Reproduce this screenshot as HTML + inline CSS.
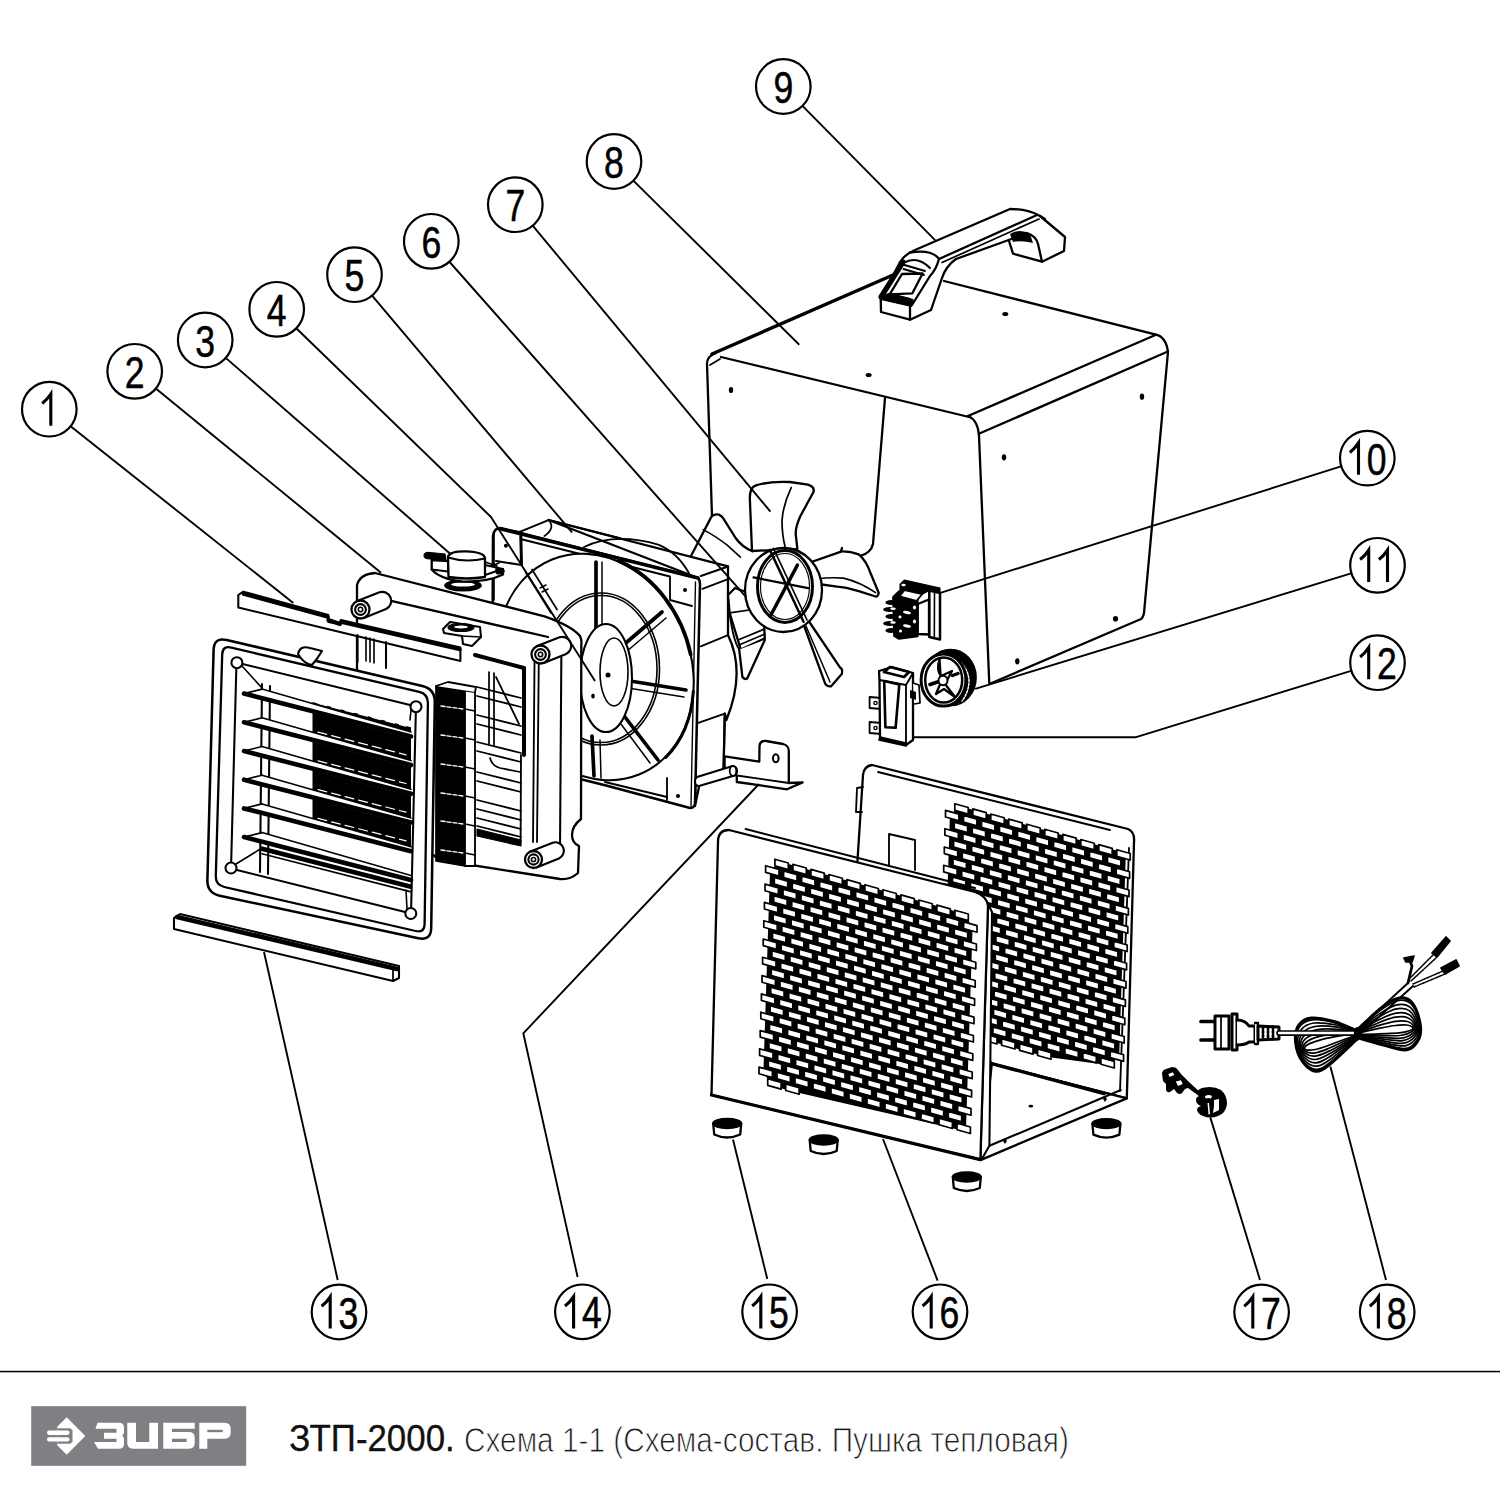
<!DOCTYPE html>
<html><head><meta charset="utf-8"><style>
html,body{margin:0;padding:0;background:#fff;}
body{width:1500px;height:1500px;overflow:hidden;position:relative;font-family:"Liberation Sans",sans-serif;}
svg{position:absolute;left:0;top:0;}
</style></head><body>
<svg width="1500" height="1500" viewBox="0 0 1500 1500" font-family="Liberation Sans, sans-serif">


<g id="drawing" fill="none" stroke="#000" stroke-width="2.3" stroke-linejoin="round" stroke-linecap="round">
<!-- ============ BOX (8) ============ -->
<g id="box">
<path d="M712,354 L893,275" stroke-width="3.45"/>
<path d="M944,281 L1156,334.7 Q1166,337 1168,352 L1144,613 Q1143,619 1138.7,620 L989.3,684 L979,436 Q978,420 968,416"/>
<path d="M968,416 L1156,334.7"/>
<path d="M980,433.3 L1166.7,352"/>
<path d="M707,364 Q707,356 716,353"/>
<path d="M721,357 L969,417"/>
<path d="M707,364 L712,516"/>
<path d="M710,365 L720,359" stroke-width="1.72"/>
<path d="M885,398 L873,544 Q871,553 860,556 L835,560"/>
<g fill="#000" stroke="none">
<ellipse cx="731" cy="390" rx="2.2" ry="3.1"/>
<ellipse cx="868.6" cy="375" rx="3" ry="2"/>
<ellipse cx="1005.3" cy="314" rx="3" ry="2"/>
<ellipse cx="1142" cy="396.7" rx="2.2" ry="3.1"/>
<ellipse cx="1004" cy="457.3" rx="2.2" ry="3.1"/>
<ellipse cx="1115.5" cy="618.7" rx="2.6" ry="2.8"/>
<ellipse cx="1017.3" cy="661.3" rx="2.2" ry="3.1"/>
</g>
</g>
<!-- ============ HANDLE (9) ============ -->
<g id="handle" fill="#fff">
<path d="M1008.7,240 L1013,253.7 L1042,261.7 L1064,251 L1065,237 L1040,216 Q1028,209 1010,209 L915,250 Q905,254 900,262 L890,282 L880.7,298 L881,312 L910,319.7 L931,310 L942,278 Q946,266 956,259 Z"/>
<path d="M939,259 L1037,215" fill="none"/>
<path d="M942,262.5 L1039,219" fill="none" stroke-width="1.72"/>
<path d="M910,252.5 Q932,249 939,259 Q936,270 930,276 L912,305" fill="none"/>

<path d="M889.7,294.4 L902,274 L922.6,273.5 L912.4,293.3 Z" fill="none" stroke-width="2.30"/>
<path d="M881,297 L903,262" fill="none" stroke-width="5.17"/>
<path d="M880.5,296.5 L889,293.5 L913,299.5 L911.5,306.5 L881,299.5 Z" fill="#000" stroke-width="1.15"/>
<path d="M905.5,262 Q918,256 930,268" fill="none" stroke-width="2.07"/>
<path d="M904.5,265 L925,271 M903.5,269 L924,275" fill="none" stroke-width="1.84"/>
<path d="M881,298 L890,294 L910,299 L910,319.7" fill="none"/>
<path d="M1008.7,240 L1027,233 Q1036,236 1038,244 L1042,261.7" fill="none"/>
<path d="M1010,234 Q1020,228 1030,234 L1033,243 Q1022,240 1013,242 Z" fill="#000" stroke="none"/>
<path d="M1040,216 L1045,219" fill="none"/>
</g>
<!-- ============ FAN HOUSING (5) ============ -->
<g id="housing" fill="#fff">
<!-- side / depth (right) -->
<path d="M548.5,520 L728,566.4 L728,635 Q746,672 726.4,720 L724.8,713.6 L723.5,772 L700,782 L695,806 L698,578 Z"/>
<path d="M700.8,576 L728,566.4" fill="none" stroke-width="2.07"/>
<path d="M702.4,588.8 L728,579.2" fill="none" stroke-width="1.84"/>
<path d="M700.8,646.4 L728,635.2" fill="none" stroke-width="1.84"/>
<path d="M697.6,723.2 L724.8,713.6" fill="none" stroke-width="1.84"/>
<path d="M724.8,713.6 L723.5,772" fill="none" stroke-width="2.07"/>
<!-- top (depth) -->
<path d="M499.5,528.7 L519.7,531.9 L548.5,520.1 L620,538.3" fill="none" stroke-width="2.07"/>
<path d="M548.5,520 Q556,528 544.3,536.1" fill="none" stroke-width="1.72"/>
<!-- front plate -->
<path d="M493,536 Q494,528 500.5,528 L698,578 Q700,580 700,584 L695,804 Q694,808 690,808 L608,786 L492,757 Z" stroke-width="2.53"/>
<path d="M499.5,528.7 L698,578" fill="none" stroke-width="3.45"/>
<path d="M695.5,582 L691,806" fill="none" stroke-width="1.38"/>
<!-- inner recess -->
<path d="M520.8,536 L521.5,564" fill="none" stroke-width="2.99"/>
<path d="M496,561 L521.5,565" fill="none" stroke-width="2.07"/>
<path d="M494,533 L494,600" fill="none" stroke-width="1.61"/>
<path d="M520.5,539 L670,576.5 L670,600 L692,606" fill="none" stroke-width="1.84"/>
<path d="M667,778 L667,800" fill="none" stroke-width="1.84"/>
<path d="M605,782 L667,797" fill="none" stroke-width="1.84"/>
<!-- big opening -->
<ellipse cx="595.5" cy="667" rx="95" ry="116" transform="rotate(-22 595.5 667)" stroke-width="2.07"/>
<path d="M619.7,561.3 A95,116 -22 0 1 690.7,654.5" fill="none" stroke-width="3.68"/>
<path d="M693.3,691.6 A95,116 -22 0 1 665.8,757.4" fill="none" stroke-width="2.99"/>
<!-- back shroud arc peeking -->
<path d="M584,547 Q615,532 659,544.8 Q678,553 689.2,573.6" fill="none" stroke-width="1.84"/>
<!-- spokes (behind ring) -->
<g fill="none" stroke-width="3.68">
<path d="M596,562 L596,628"/>
<path d="M662,612 L620,648"/>
<path d="M630,681 L686,690"/>
<path d="M618,708 L658,760"/>
<path d="M592,736 L594,776"/>
</g>
<g fill="none" stroke-width="1.49">
<path d="M602,562 L602,626"/>
<path d="M666,618 L626,652"/>
<path d="M628,688 L684,697"/>
<path d="M612,712 L650,763"/>
<path d="M600,740 L601,778"/>
</g>
<path d="M525.5,572 L551,613 M532,569.5 L557,609.5" fill="none" stroke-width="1.72"/>
<path d="M540,588 L546,585 M542,592 L548,589" fill="none" stroke-width="1.49"/>
<!-- ring -->
<ellipse cx="601" cy="669" rx="58.5" ry="76" fill="none" stroke-width="1.61"/>
<ellipse cx="601" cy="669" rx="56" ry="73.5" fill="none" stroke-width="1.61"/>
<!-- hub -->
<ellipse cx="606" cy="678" rx="26" ry="54" stroke-width="2.07"/>
<ellipse cx="614" cy="672" rx="14" ry="34" fill="none" stroke-width="1.61"/>
<circle cx="608" cy="675" r="2.5" fill="#000" stroke="none"/>
<ellipse cx="593" cy="696" rx="1.8" ry="2.6" fill="#000" stroke="none"/>
<!-- holes -->
<circle cx="685" cy="590" r="2" fill="#000" stroke="none"/>
<circle cx="678" cy="796" r="2" fill="#000" stroke="none"/>
<circle cx="505.9" cy="545.7" r="2" fill="#000" stroke="none"/>
</g>
<!-- ============ FAN (7) ============ -->
<g id="fan" fill="#fff">
<!-- upper-left blade (behind) -->
<path d="M691,556 L711.6,516.4 Q715,513.5 718.8,514.6 Q722,516 723.6,518.8 L735.6,538 Q742,547 752.4,551.2"/>
<path d="M703.2,529.6 Q717,537 727.2,545.2 L740.4,557.2" fill="none" stroke-width="1.61"/>
<!-- top blade -->
<path d="M752,551 L749.8,497.6 Q750,487 756,485.3 Q770,481 790,482 L808,484.6 Q815,487 813.5,492 L800.4,516 Q795,528 795.8,535 L797.4,549 Z"/>
<path d="M791.2,487.6 Q783,505 782,520.6 Q782,535 785.1,546.7" fill="none" stroke-width="1.72"/>
<!-- right blade -->
<path d="M800,566 L841.8,551.3 Q850,551 858.7,554.4 Q866,560 871,574.3 L878.7,592.7 Q878,597 875.6,596.5 L858.7,591.2 Q845,587 837.2,586.6 L818,584 Z"/>
<path d="M817.3,578.9 Q830,577 843.4,578.1 Q860,582 875.6,592.7" fill="none" stroke-width="1.61"/>
<path d="M841,551 L842,548" fill="none" stroke-width="2.30"/>
<!-- bottom blade -->
<path d="M802,620 L825,683.2 Q827,687 831.1,686.3 L841.8,674 Q843,669 840.3,667.9 L808,620 Z"/>
<path d="M806,626 L830,682" fill="none" stroke-width="1.49"/>
<!-- motor (left of hub) -->
<path d="M728,595 L735,588 L760,597 L763.2,608 L764.8,638.4 L740.8,649.6 L729.6,612.8 Z"/>
<path d="M729.6,612.8 L763.2,608" fill="none" stroke-width="1.72"/>
<path d="M738,640 L764.5,629" fill="none" stroke-width="1.72"/>
<path d="M739,645 L764.8,634" fill="none" stroke-width="1.72"/>
<path d="M739.2,649.6 L742.4,677 Q744.5,680 747.2,678.4 L764.8,640" />
<path d="M729.6,612.8 Q733,640 739.2,649.6" fill="none" stroke-width="1.84"/>
<!-- hub -->
<ellipse cx="783.5" cy="590" rx="38.5" ry="42"/>
<ellipse cx="785" cy="586.5" rx="27.5" ry="36" stroke-width="2.99"/>
<ellipse cx="785" cy="586.5" rx="24.5" ry="33" stroke-width="1.15"/>
<path d="M769.8,549.8 L803.5,621.8" fill="none" stroke-width="2.53"/>
<path d="M773.5,548.5 L807,620" fill="none" stroke-width="1.72"/>
<path d="M753.6,577.4 L808.1,588.1" fill="none" stroke-width="2.30"/>
<path d="M797.4,565.1 L771.3,614.2" fill="none" stroke-width="3.45"/>
<circle cx="786" cy="587" r="2" fill="#000" stroke="none"/>
</g>
<!-- ============ SWITCH (10) ============ -->
<g id="switch10" fill="#fff">
<path d="M929.3,590.5 L940,593 L940,639.5 L929.3,637 Z" stroke-width="2.53"/>
<path d="M934.5,592 L934.3,638" fill="none" stroke-width="1.61"/>
<path d="M917.7,604 L929,599.5 L929,634.5 L917.7,634 Z" stroke-width="2.30"/>
<path d="M893,597 L899,591 L917.7,598 L917.7,636.5 L899,639 L894,636 Z" fill="#000" stroke-width="1.72"/>
<g fill="#000" stroke="none">
<ellipse cx="891" cy="602.5" rx="5.5" ry="2.5"/><ellipse cx="889.5" cy="609.5" rx="6.3" ry="2.5"/>
<ellipse cx="891" cy="616.5" rx="5.5" ry="2.5"/><ellipse cx="889.5" cy="623.5" rx="6.3" ry="2.5"/>
<ellipse cx="891" cy="630.5" rx="5.5" ry="2.5"/>
</g>
<g fill="#fff" stroke="none">
<ellipse cx="893" cy="608.8" rx="2.8" ry="1.3"/><ellipse cx="893" cy="622.5" rx="2.8" ry="1.3"/>
<ellipse cx="907" cy="612.5" rx="4" ry="1.5" transform="rotate(12 907 612.5)"/><ellipse cx="907" cy="626" rx="4" ry="1.5" transform="rotate(12 907 626)"/>
<ellipse cx="914.5" cy="607.5" rx="1.6" ry="2"/><ellipse cx="914.5" cy="621.5" rx="1.6" ry="2"/>
<ellipse cx="900" cy="617" rx="1.5" ry="1.4"/><ellipse cx="900.5" cy="631" rx="1.5" ry="1.5"/>
</g>
<path d="M900,595 L900,584.5 L904.5,580 L940,588 L940,593 L929.3,590.5 L922.5,594 L904.5,590 Z" fill="#000" stroke-width="1.15"/>
<path d="M899.5,596.5 L904.5,590 L922.3,594 L916.5,601 Z" stroke-width="1.84"/>
<ellipse cx="903.5" cy="585" rx="2.2" ry="1.2" fill="#fff" stroke="none"/>
</g>
<!-- ============ KNOB (11) ============ -->
<g id="knob11" fill="#fff">
<ellipse cx="950.5" cy="677.5" rx="25.5" ry="28" fill="#000" stroke-width="1.72"/>
<path d="M958,660 Q968,668 969,680 Q969,692 962,701" fill="none" stroke="#fff" stroke-width="1.49" stroke-dasharray="2.2 1.6"/>
<ellipse cx="943.5" cy="680" rx="22.4" ry="26.1" stroke-width="2.99"/>
<ellipse cx="943.7" cy="680" rx="18.5" ry="22.6" fill="none" stroke-width="2.53"/>
<path d="M939.5,659 Q936,670 941,676 L952,671 L945,684 L955,697 L944,689 L936,694 L941,682 Z" fill="#fff" stroke-width="2.30"/>
<path d="M930,684.5 L939,681.5" fill="none" stroke-width="3.68"/>
<path d="M952.5,675.5 L958,673.5" fill="none" stroke-width="3.45"/>
<ellipse cx="943" cy="680.5" rx="4.5" ry="4.8" stroke-width="2.07"/>
</g>
<!-- ============ PART 12 ============ -->
<g id="part12" fill="#fff">
<path d="M869.6,697 L881.6,698 L881.6,709 L869.6,708 Z" stroke-width="1.84"/>
<path d="M869.6,722 L881.6,723 L881.6,734 L869.6,733 Z" stroke-width="1.84"/>
<circle cx="875.5" cy="703" r="1.6" stroke-width="1.38"/>
<circle cx="875.5" cy="728" r="1.6" stroke-width="1.38"/>
<path d="M879,671 L892,667 L913,673 L913,740 L906,745 L880,738 L879.5,680 Z"/>
<path d="M879.5,680 L906,685 L913,673" fill="none" stroke-width="1.84"/>
<path d="M906,685 L906,745" fill="none" stroke-width="1.84"/>
<path d="M884.2,681 L899.3,684.5 L895.6,727.8 L885.4,727.2 Z" fill="none" stroke-width="2.64"/>
<path d="M884,672 L904,677 L909,672 L890,667 Z" fill="none" stroke-width="2.76"/>
<path d="M880,737 L906,743 L906,746 L879,740 Z" fill="#000" stroke-width="1.72"/>
<path d="M913,683 L919,685 L920,703 L914,704" fill="#fff" stroke-width="1.72"/>
<path d="M910,690 L916,692 L916,700 L910,698" fill="#000" stroke="none"/>
</g>
<!-- ============ THERMOSTAT (3) ============ -->
<g id="thermo" fill="#fff">
<ellipse cx="463" cy="585.5" rx="18" ry="5.2" fill="#000" stroke-width="1.72"/>
<ellipse cx="463" cy="584.5" rx="12" ry="2" fill="#fff" stroke="none"/>
<path d="M431.7,560 L431.7,569.5 Q440,579 462,581.5 Q488,582 503,574.5 L503,569 L485,565 L448,561 Z" stroke-width="2.30"/>
<path d="M431.7,569.5 L448,571.5 L485,575 L503,569" fill="none" stroke-width="2.07"/>
<path d="M448,561 L448,571.5" fill="none" stroke-width="2.07"/>
<path d="M424,555.5 Q424,552 430,552.5 L445,554 L446,560.5 L430,559 Q424,559 424,555.5 Z" fill="#000" stroke-width="1.15"/>
<path d="M448,556.5 Q450,551 466,551.3 Q484,552 485,558 L485,577 Q467,580 448.5,577 Z" stroke-width="2.30"/>
<path d="M448,557.5 Q466,563 485,558.5" fill="none" stroke-width="2.07"/>
<path d="M485,562 L497,566 M491,566 L499,563" fill="none" stroke-width="1.72"/>
<path d="M496,569 Q503,568 504,571 Q503,574 497,573.5 Z" fill="#000" stroke-width="1.72"/>
</g>
<!-- ============ FRAME (2) ============ -->
<g id="frame2" fill="#fff">
<!-- outer silhouette incl. top surface and flange -->
<path d="M357,597 L357,585 Q360,574 375,573 L544.5,616.3 Q572,626 580,636 Q582,640 581.3,645 L581,819 Q572,826 572,835 Q572,843 579,846 L578,873 Q570,880 560,879 L440,860 L357,800 Z" stroke-width="2.30"/>
<!-- top band front face -->
<path d="M386.8,599.8 L548,637" fill="none" stroke-width="2.30"/>

<!-- right band -->
<path d="M534.5,663 L533,842" fill="none" stroke-width="1.84"/>
<path d="M538.8,660 L537,842" fill="none" stroke-width="1.84"/>
<path d="M561.4,648 L560,850" fill="none" stroke-width="2.07"/>
<!-- inner opening -->
<path d="M524,668 L524,755" fill="none" stroke-width="4.02"/>
<path d="M521,755 L520.6,842" fill="none" stroke-width="1.84"/>
<path d="M475,655 L524,668" fill="none" stroke-width="4.02"/>
<!-- slats inside -->
<g fill="none" stroke-width="1.72">
<path d="M477,687 L521,698 M477,696 L521,707"/>
<path d="M477,715 L521,726 M477,724 L521,735"/>
<path d="M477,742 L521,753 M477,751 L521,762"/>
<path d="M477,772 L521,783 M477,781 L521,792"/>
<path d="M477,800 L521,811 M477,809 L521,820"/>
<path d="M477,818 L521,829 M477,826 L521,837"/>
<path d="M489,672 L489,744 M494,673 L494,745"/>
<path d="M496,677 L519,724"/>
<path d="M490,758 Q492,766 500,768 L520,772"/>
</g>
<path d="M477,829 L521,840 L521,846 L477,836 Z" fill="#000" stroke-width="1.15"/>
<!-- tubes -->
<path d="M357.2,601.1 L379.5,592.3 A9,9 0 0 1 386.1,609.0 L363.8,617.9 Z" stroke-width="2.18"/>
<circle cx="360.5" cy="609.5" r="9" stroke-width="2.30"/>
<circle cx="360.5" cy="609.5" r="5.4" stroke-width="2.07"/>
<circle cx="360.5" cy="609.5" r="2.2" stroke-width="1.49"/>
<path d="M537.2,646.1 L559.5,637.3 A9,9 0 0 1 566.1,654.0 L543.8,662.9 Z" stroke-width="2.18"/>
<circle cx="540.5" cy="654.5" r="9" stroke-width="2.30"/>
<circle cx="540.5" cy="654.5" r="5.4" stroke-width="2.07"/>
<circle cx="540.5" cy="654.5" r="2.2" stroke-width="1.49"/>
<path d="M530.4,851.6 L552.7,842.7 A8.5,8.5 0 0 1 558.9,858.5 L536.6,867.4 Z" stroke-width="2.18"/>
<circle cx="533.5" cy="859.5" r="8.5" stroke-width="2.30"/>
<circle cx="533.5" cy="859.5" r="5.1" stroke-width="2.07"/>
<circle cx="533.5" cy="859.5" r="2.1" stroke-width="1.49"/>
<!-- clip on top band -->
<path d="M443,629 L450,622 L480,627 L481,637 L472,646 L463,644 L462,636 L444,633 Z" stroke-width="2.07"/>
<ellipse cx="461" cy="627.5" rx="13" ry="4" fill="#000" stroke-width="1.15"/>
<ellipse cx="461" cy="627" rx="7" ry="1.4" fill="#fff" stroke="none"/>
<path d="M462,636 L481,637" fill="none" stroke-width="1.61"/>
</g>
<!-- ============ HEATER ELEMENT ============ -->
<g id="heater">
<path d="M436,686 L465,690.5 L465,866 L436,861 Z" fill="#000" stroke="#000" stroke-width="1.72"/>
<path d="M465,690.5 L475,692 L475,866 L465,866 Z" fill="#fff" stroke-width="1.84"/>
<path d="M436,686 L448,682 L476,687 L475,692" fill="#fff" stroke-width="1.84"/>
<g fill="none" stroke="#fff" stroke-width="1.38" stroke-dasharray="4 2">
<path d="M441,706 L463,709"/><path d="M441,735 L463,738"/><path d="M441,764 L463,767"/>
<path d="M441,793 L463,796"/><path d="M441,821 L463,824"/><path d="M441,850 L463,853"/>
</g>
<g fill="none" stroke-width="1.61">
<path d="M465,709 L475,711"/><path d="M465,738 L475,740"/><path d="M465,767 L475,769"/>
<path d="M465,796 L475,798"/><path d="M465,824 L475,826"/><path d="M465,853 L475,855"/>
</g>
</g>
<!-- ============ TOP STRIP (1) ============ -->
<g id="strip1" fill="#fff">
<path d="M238.3,595 L243.3,591.7 L328.3,615 L328.3,622 L340,624 L340.8,620 L460.4,647.5 L460.4,661 L340,632 L238.3,607.5 Z" stroke-width="2.07"/>
<path d="M243.5,594 L328,617" fill="none" stroke-width="3.45"/>
<path d="M340.8,622 L460,649.5" fill="none" stroke-width="3.45"/>
<path d="M328.3,620 L340,624" fill="none" stroke-width="4.02"/>
<path d="M357.5,635 L357.5,662 M386,642 L386,668" fill="none" stroke-width="2.07"/>
<path d="M366,637 L366,661 M370,638 L370,662 M374,639 L374,663" fill="none" stroke-width="1.61"/>
</g>
<g id="grille" fill="#fff">
<path d="M213.6,650.0 Q214.0,637.0 226.7,640.0 L422.3,686.0 Q435.0,689.0 434.8,702.0 L431.2,928.0 Q431.0,941.0 418.3,938.3 L219.7,895.7 Q207.0,893.0 207.4,880.0 Z" stroke-width="2.53"/>
<path d="M222.2,654.5 Q222.5,645.5 231.3,647.6 L419.2,691.9 Q428.0,694.0 427.9,703.0 L424.6,924.0 Q424.5,933.0 415.7,931.0 L224.3,887.0 Q215.5,885.0 215.8,876.0 Z" fill="none" stroke-width="2.30"/>
<path d="M236.4,665.5 Q236.5,662.5 239.4,663.2 L413.1,705.8 Q416.0,706.5 415.9,709.5 L411.1,910.5 Q411.0,913.5 408.1,912.8 L233.9,869.2 Q231.0,868.5 231.1,865.5 Z" fill="none" stroke-width="2.07"/>
<path d="M312.5,702.0 L411.0,727.3 L411.0,731.9 L312.5,706.6 Z" fill="#000" stroke="none"/>
<path d="M318,703.5 L406,726.1" stroke="#fff" stroke-width="1.26" stroke-dasharray="9 5" fill="none"/>
<path d="M312.5,713.1 L411.0,738.4 L411.0,760.6 L312.5,735.3 Z" fill="#000" stroke="none"/>
<path d="M318,732.2 L406,754.8" stroke="#fff" stroke-width="1.26" stroke-dasharray="9 5" fill="none"/>
<path d="M312.5,741.8 L411.0,767.1 L411.0,789.3 L312.5,764.0 Z" fill="#000" stroke="none"/>
<path d="M318,760.9 L406,783.5" stroke="#fff" stroke-width="1.26" stroke-dasharray="9 5" fill="none"/>
<path d="M312.5,770.5 L411.0,795.8 L411.0,818.0 L312.5,792.7 Z" fill="#000" stroke="none"/>
<path d="M318,789.6 L406,812.2" stroke="#fff" stroke-width="1.26" stroke-dasharray="9 5" fill="none"/>
<path d="M312.5,799.2 L411.0,824.5 L411.0,846.7 L312.5,821.4 Z" fill="#000" stroke="none"/>
<path d="M318,818.3 L406,840.9" stroke="#fff" stroke-width="1.26" stroke-dasharray="9 5" fill="none"/>
<path d="M262,684 L260,872 M270,686 L268,874" fill="none" stroke-width="2.07"/>
<path d="M244,693.6 L262,689.1 L411,731.9 L411,736.4 Z" fill="#fff" stroke="none"/>
<path d="M244,693.6 L411,736.4" fill="none" stroke-width="4.60"/>
<path d="M262,689.1 L411,731.9" fill="none" stroke-width="1.61"/>
<path d="M244,693.6 L262,689.1" fill="none" stroke-width="1.61"/>
<path d="M244,722.3 L262,717.8 L411,760.6 L411,765.1 Z" fill="#fff" stroke="none"/>
<path d="M244,722.3 L411,765.1" fill="none" stroke-width="4.60"/>
<path d="M262,717.8 L411,760.6" fill="none" stroke-width="1.61"/>
<path d="M244,722.3 L262,717.8" fill="none" stroke-width="1.61"/>
<path d="M244,751.0 L262,746.5 L411,789.3 L411,793.8 Z" fill="#fff" stroke="none"/>
<path d="M244,751.0 L411,793.8" fill="none" stroke-width="4.60"/>
<path d="M262,746.5 L411,789.3" fill="none" stroke-width="1.61"/>
<path d="M244,751.0 L262,746.5" fill="none" stroke-width="1.61"/>
<path d="M244,779.7 L262,775.2 L411,818.0 L411,822.5 Z" fill="#fff" stroke="none"/>
<path d="M244,779.7 L411,822.5" fill="none" stroke-width="4.60"/>
<path d="M262,775.2 L411,818.0" fill="none" stroke-width="1.61"/>
<path d="M244,779.7 L262,775.2" fill="none" stroke-width="1.61"/>
<path d="M244,808.4 L262,803.9 L411,846.7 L411,851.2 Z" fill="#fff" stroke="none"/>
<path d="M244,808.4 L411,851.2" fill="none" stroke-width="4.60"/>
<path d="M262,803.9 L411,846.7" fill="none" stroke-width="1.61"/>
<path d="M244,808.4 L262,803.9" fill="none" stroke-width="1.61"/>
<path d="M244,837.1 L262,832.6 L411,875.4 L411,879.9 Z" fill="#fff" stroke="none"/>
<path d="M244,837.1 L411,879.9" fill="none" stroke-width="4.60"/>
<path d="M262,832.6 L411,875.4" fill="none" stroke-width="1.61"/>
<path d="M244,837.1 L262,832.6" fill="none" stroke-width="1.61"/>
<path d="M262,848.7 L410,886.6" fill="none" stroke-width="4.60"/>
<path d="M262,853.7 L410,891.6" fill="none" stroke-width="1.61"/>
<circle cx="236.9" cy="662.7" r="5.5" stroke-width="2.07"/>
<circle cx="416" cy="706.7" r="5.5" stroke-width="2.07"/>
<circle cx="410.8" cy="913.5" r="5.5" stroke-width="2.07"/>
<circle cx="231" cy="868" r="5.5" stroke-width="2.07"/>
<path d="M242,666 L262,688 M411,710 L410,720 M236,864 L262,848 M407,909 L406,890" fill="none" stroke-width="1.61"/>
<path d="M298,654 Q300,645 310,648 L322,651 Q318,658 312,665 Q304,664 298,654 Z" stroke-width="2.07"/>
</g>
<g id="strip13" fill="#fff">
<path d="M174,918 L180,914 L399,966 L399,978 L393,981 L174,929 Z" stroke-width="2.07"/>
<path d="M177,917 L397,969" fill="none" stroke-width="4.60"/>
<path d="M393,969 L393,981" fill="none" stroke-width="1.72"/>
</g><g id="frame16" fill="#fff">
<path d="M857,868 L863,775 Q864,766 872,765 L1128,829 Q1135,832 1134,842 L1126.8,1098.4 L991.8,1063.6 Z" stroke-width="2.30"/>
<path d="M1129,848 L1120,1091" fill="none" stroke-width="1.84"/>
<path d="M878,772 L1110,830" fill="none" stroke-width="1.84"/>
<path d="M863,787 L857,788 L856,812 L862,812" fill="none" stroke-width="1.84"/>
<path d="M889,866 L889,834 L915,840 L915,870" fill="none" stroke-width="1.84"/>
<path d="M949.2,907.1 L949.8,888.8 L951.6,833.9 L952.2,815.6 L961.5,809.0 L1015.5,824.3 L1105.5,849.8 L1123.5,854.9 L1122.9,873.2 L1116.9,1056.2 L1107.6,1062.8 L1044.3,1054.1 L1008.3,1043.9 L972.3,1033.7 L954.3,1028.6 Z" fill="#000" stroke="#000" stroke-width="4.60" stroke-linejoin="round"/>
<path d="M954.8,803.8l13.4,3.75l0,6.6l-13.4,-3.75zM945.5,810.4l13.4,3.75l0,6.6l-13.4,-3.75zM972.8,808.9l13.4,3.75l0,6.6l-13.4,-3.75zM963.5,815.5l13.4,3.75l0,6.6l-13.4,-3.75zM990.8,814.0l13.4,3.75l0,6.6l-13.4,-3.75zM981.5,820.6l13.4,3.75l0,6.6l-13.4,-3.75zM1008.8,819.1l13.4,3.75l0,6.6l-13.4,-3.75zM999.5,825.7l13.4,3.75l0,6.6l-13.4,-3.75zM1026.8,824.2l13.4,3.75l0,6.6l-13.4,-3.75zM1017.5,830.8l13.4,3.75l0,6.6l-13.4,-3.75zM1044.8,829.3l13.4,3.75l0,6.6l-13.4,-3.75zM1035.5,835.9l13.4,3.75l0,6.6l-13.4,-3.75zM1062.8,834.4l13.4,3.75l0,6.6l-13.4,-3.75zM1053.5,841.0l13.4,3.75l0,6.6l-13.4,-3.75zM1080.8,839.5l13.4,3.75l0,6.6l-13.4,-3.75zM1071.5,846.1l13.4,3.75l0,6.6l-13.4,-3.75zM1098.8,844.6l13.4,3.75l0,6.6l-13.4,-3.75zM1089.5,851.2l13.4,3.75l0,6.6l-13.4,-3.75zM1116.8,849.7l13.4,3.75l0,6.6l-13.4,-3.75zM1107.5,856.3l13.4,3.75l0,6.6l-13.4,-3.75zM954.2,822.1l13.4,3.75l0,6.6l-13.4,-3.75zM944.9,828.7l13.4,3.75l0,6.6l-13.4,-3.75zM972.2,827.2l13.4,3.75l0,6.6l-13.4,-3.75zM962.9,833.8l13.4,3.75l0,6.6l-13.4,-3.75zM990.2,832.3l13.4,3.75l0,6.6l-13.4,-3.75zM980.9,838.9l13.4,3.75l0,6.6l-13.4,-3.75zM1008.2,837.4l13.4,3.75l0,6.6l-13.4,-3.75zM998.9,844.0l13.4,3.75l0,6.6l-13.4,-3.75zM1026.2,842.5l13.4,3.75l0,6.6l-13.4,-3.75zM1016.9,849.1l13.4,3.75l0,6.6l-13.4,-3.75zM1044.2,847.6l13.4,3.75l0,6.6l-13.4,-3.75zM1034.9,854.2l13.4,3.75l0,6.6l-13.4,-3.75zM1062.2,852.7l13.4,3.75l0,6.6l-13.4,-3.75zM1052.9,859.3l13.4,3.75l0,6.6l-13.4,-3.75zM1080.2,857.8l13.4,3.75l0,6.6l-13.4,-3.75zM1070.9,864.4l13.4,3.75l0,6.6l-13.4,-3.75zM1098.2,862.9l13.4,3.75l0,6.6l-13.4,-3.75zM1088.9,869.5l13.4,3.75l0,6.6l-13.4,-3.75zM1116.2,868.0l13.4,3.75l0,6.6l-13.4,-3.75zM1106.9,874.6l13.4,3.75l0,6.6l-13.4,-3.75zM953.6,840.4l13.4,3.75l0,6.6l-13.4,-3.75zM944.3,847.0l13.4,3.75l0,6.6l-13.4,-3.75zM971.6,845.5l13.4,3.75l0,6.6l-13.4,-3.75zM962.3,852.1l13.4,3.75l0,6.6l-13.4,-3.75zM989.6,850.6l13.4,3.75l0,6.6l-13.4,-3.75zM980.3,857.2l13.4,3.75l0,6.6l-13.4,-3.75zM1007.6,855.7l13.4,3.75l0,6.6l-13.4,-3.75zM998.3,862.3l13.4,3.75l0,6.6l-13.4,-3.75zM1025.6,860.8l13.4,3.75l0,6.6l-13.4,-3.75zM1016.3,867.4l13.4,3.75l0,6.6l-13.4,-3.75zM1043.6,865.9l13.4,3.75l0,6.6l-13.4,-3.75zM1034.3,872.5l13.4,3.75l0,6.6l-13.4,-3.75zM1061.6,871.0l13.4,3.75l0,6.6l-13.4,-3.75zM1052.3,877.6l13.4,3.75l0,6.6l-13.4,-3.75zM1079.6,876.1l13.4,3.75l0,6.6l-13.4,-3.75zM1070.3,882.7l13.4,3.75l0,6.6l-13.4,-3.75zM1097.6,881.2l13.4,3.75l0,6.6l-13.4,-3.75zM1088.3,887.8l13.4,3.75l0,6.6l-13.4,-3.75zM1115.6,886.3l13.4,3.75l0,6.6l-13.4,-3.75zM1106.3,892.9l13.4,3.75l0,6.6l-13.4,-3.75zM953.0,858.7l13.4,3.75l0,6.6l-13.4,-3.75zM943.7,865.3l13.4,3.75l0,6.6l-13.4,-3.75zM971.0,863.8l13.4,3.75l0,6.6l-13.4,-3.75zM961.7,870.4l13.4,3.75l0,6.6l-13.4,-3.75zM989.0,868.9l13.4,3.75l0,6.6l-13.4,-3.75zM979.7,875.5l13.4,3.75l0,6.6l-13.4,-3.75zM1007.0,874.0l13.4,3.75l0,6.6l-13.4,-3.75zM997.7,880.6l13.4,3.75l0,6.6l-13.4,-3.75zM1025.0,879.1l13.4,3.75l0,6.6l-13.4,-3.75zM1015.7,885.7l13.4,3.75l0,6.6l-13.4,-3.75zM1043.0,884.2l13.4,3.75l0,6.6l-13.4,-3.75zM1033.7,890.8l13.4,3.75l0,6.6l-13.4,-3.75zM1061.0,889.3l13.4,3.75l0,6.6l-13.4,-3.75zM1051.7,895.9l13.4,3.75l0,6.6l-13.4,-3.75zM1079.0,894.4l13.4,3.75l0,6.6l-13.4,-3.75zM1069.7,901.0l13.4,3.75l0,6.6l-13.4,-3.75zM1097.0,899.5l13.4,3.75l0,6.6l-13.4,-3.75zM1087.7,906.1l13.4,3.75l0,6.6l-13.4,-3.75zM1115.0,904.6l13.4,3.75l0,6.6l-13.4,-3.75zM1105.7,911.2l13.4,3.75l0,6.6l-13.4,-3.75zM952.4,877.0l13.4,3.75l0,6.6l-13.4,-3.75zM943.1,883.6l13.4,3.75l0,6.6l-13.4,-3.75zM970.4,882.1l13.4,3.75l0,6.6l-13.4,-3.75zM961.1,888.7l13.4,3.75l0,6.6l-13.4,-3.75zM988.4,887.2l13.4,3.75l0,6.6l-13.4,-3.75zM979.1,893.8l13.4,3.75l0,6.6l-13.4,-3.75zM1006.4,892.3l13.4,3.75l0,6.6l-13.4,-3.75zM997.1,898.9l13.4,3.75l0,6.6l-13.4,-3.75zM1024.4,897.4l13.4,3.75l0,6.6l-13.4,-3.75zM1015.1,904.0l13.4,3.75l0,6.6l-13.4,-3.75zM1042.4,902.5l13.4,3.75l0,6.6l-13.4,-3.75zM1033.1,909.1l13.4,3.75l0,6.6l-13.4,-3.75zM1060.4,907.6l13.4,3.75l0,6.6l-13.4,-3.75zM1051.1,914.2l13.4,3.75l0,6.6l-13.4,-3.75zM1078.4,912.7l13.4,3.75l0,6.6l-13.4,-3.75zM1069.1,919.3l13.4,3.75l0,6.6l-13.4,-3.75zM1096.4,917.8l13.4,3.75l0,6.6l-13.4,-3.75zM1087.1,924.4l13.4,3.75l0,6.6l-13.4,-3.75zM1114.4,922.9l13.4,3.75l0,6.6l-13.4,-3.75zM1105.1,929.5l13.4,3.75l0,6.6l-13.4,-3.75zM951.8,895.3l13.4,3.75l0,6.6l-13.4,-3.75zM942.5,901.9l13.4,3.75l0,6.6l-13.4,-3.75zM969.8,900.4l13.4,3.75l0,6.6l-13.4,-3.75zM960.5,907.0l13.4,3.75l0,6.6l-13.4,-3.75zM987.8,905.5l13.4,3.75l0,6.6l-13.4,-3.75zM978.5,912.1l13.4,3.75l0,6.6l-13.4,-3.75zM1005.8,910.6l13.4,3.75l0,6.6l-13.4,-3.75zM996.5,917.2l13.4,3.75l0,6.6l-13.4,-3.75zM1023.8,915.7l13.4,3.75l0,6.6l-13.4,-3.75zM1014.5,922.3l13.4,3.75l0,6.6l-13.4,-3.75zM1041.8,920.8l13.4,3.75l0,6.6l-13.4,-3.75zM1032.5,927.4l13.4,3.75l0,6.6l-13.4,-3.75zM1059.8,925.9l13.4,3.75l0,6.6l-13.4,-3.75zM1050.5,932.5l13.4,3.75l0,6.6l-13.4,-3.75zM1077.8,931.0l13.4,3.75l0,6.6l-13.4,-3.75zM1068.5,937.6l13.4,3.75l0,6.6l-13.4,-3.75zM1095.8,936.1l13.4,3.75l0,6.6l-13.4,-3.75zM1086.5,942.7l13.4,3.75l0,6.6l-13.4,-3.75zM1113.8,941.2l13.4,3.75l0,6.6l-13.4,-3.75zM1104.5,947.8l13.4,3.75l0,6.6l-13.4,-3.75zM951.2,913.6l13.4,3.75l0,6.6l-13.4,-3.75zM969.2,918.7l13.4,3.75l0,6.6l-13.4,-3.75zM959.9,925.3l13.4,3.75l0,6.6l-13.4,-3.75zM987.2,923.8l13.4,3.75l0,6.6l-13.4,-3.75zM977.9,930.4l13.4,3.75l0,6.6l-13.4,-3.75zM1005.2,928.9l13.4,3.75l0,6.6l-13.4,-3.75zM995.9,935.5l13.4,3.75l0,6.6l-13.4,-3.75zM1023.2,934.0l13.4,3.75l0,6.6l-13.4,-3.75zM1013.9,940.6l13.4,3.75l0,6.6l-13.4,-3.75zM1041.2,939.1l13.4,3.75l0,6.6l-13.4,-3.75zM1031.9,945.7l13.4,3.75l0,6.6l-13.4,-3.75zM1059.2,944.2l13.4,3.75l0,6.6l-13.4,-3.75zM1049.9,950.8l13.4,3.75l0,6.6l-13.4,-3.75zM1077.2,949.3l13.4,3.75l0,6.6l-13.4,-3.75zM1067.9,955.9l13.4,3.75l0,6.6l-13.4,-3.75zM1095.2,954.4l13.4,3.75l0,6.6l-13.4,-3.75zM1085.9,961.0l13.4,3.75l0,6.6l-13.4,-3.75zM1113.2,959.5l13.4,3.75l0,6.6l-13.4,-3.75zM1103.9,966.1l13.4,3.75l0,6.6l-13.4,-3.75zM950.6,931.9l13.4,3.75l0,6.6l-13.4,-3.75zM968.6,937.0l13.4,3.75l0,6.6l-13.4,-3.75zM959.3,943.6l13.4,3.75l0,6.6l-13.4,-3.75zM986.6,942.1l13.4,3.75l0,6.6l-13.4,-3.75zM977.3,948.7l13.4,3.75l0,6.6l-13.4,-3.75zM1004.6,947.2l13.4,3.75l0,6.6l-13.4,-3.75zM995.3,953.8l13.4,3.75l0,6.6l-13.4,-3.75zM1022.6,952.3l13.4,3.75l0,6.6l-13.4,-3.75zM1013.3,958.9l13.4,3.75l0,6.6l-13.4,-3.75zM1040.6,957.4l13.4,3.75l0,6.6l-13.4,-3.75zM1031.3,964.0l13.4,3.75l0,6.6l-13.4,-3.75zM1058.6,962.5l13.4,3.75l0,6.6l-13.4,-3.75zM1049.3,969.1l13.4,3.75l0,6.6l-13.4,-3.75zM1076.6,967.6l13.4,3.75l0,6.6l-13.4,-3.75zM1067.3,974.2l13.4,3.75l0,6.6l-13.4,-3.75zM1094.6,972.7l13.4,3.75l0,6.6l-13.4,-3.75zM1085.3,979.3l13.4,3.75l0,6.6l-13.4,-3.75zM1112.6,977.8l13.4,3.75l0,6.6l-13.4,-3.75zM1103.3,984.4l13.4,3.75l0,6.6l-13.4,-3.75zM950.0,950.2l13.4,3.75l0,6.6l-13.4,-3.75zM968.0,955.3l13.4,3.75l0,6.6l-13.4,-3.75zM958.7,961.9l13.4,3.75l0,6.6l-13.4,-3.75zM986.0,960.4l13.4,3.75l0,6.6l-13.4,-3.75zM976.7,967.0l13.4,3.75l0,6.6l-13.4,-3.75zM1004.0,965.5l13.4,3.75l0,6.6l-13.4,-3.75zM994.7,972.1l13.4,3.75l0,6.6l-13.4,-3.75zM1022.0,970.6l13.4,3.75l0,6.6l-13.4,-3.75zM1012.7,977.2l13.4,3.75l0,6.6l-13.4,-3.75zM1040.0,975.7l13.4,3.75l0,6.6l-13.4,-3.75zM1030.7,982.3l13.4,3.75l0,6.6l-13.4,-3.75zM1058.0,980.8l13.4,3.75l0,6.6l-13.4,-3.75zM1048.7,987.4l13.4,3.75l0,6.6l-13.4,-3.75zM1076.0,985.9l13.4,3.75l0,6.6l-13.4,-3.75zM1066.7,992.5l13.4,3.75l0,6.6l-13.4,-3.75zM1094.0,991.0l13.4,3.75l0,6.6l-13.4,-3.75zM1084.7,997.6l13.4,3.75l0,6.6l-13.4,-3.75zM1112.0,996.1l13.4,3.75l0,6.6l-13.4,-3.75zM1102.7,1002.7l13.4,3.75l0,6.6l-13.4,-3.75zM949.4,968.5l13.4,3.75l0,6.6l-13.4,-3.75zM967.4,973.6l13.4,3.75l0,6.6l-13.4,-3.75zM958.1,980.2l13.4,3.75l0,6.6l-13.4,-3.75zM985.4,978.7l13.4,3.75l0,6.6l-13.4,-3.75zM976.1,985.3l13.4,3.75l0,6.6l-13.4,-3.75zM1003.4,983.8l13.4,3.75l0,6.6l-13.4,-3.75zM994.1,990.4l13.4,3.75l0,6.6l-13.4,-3.75zM1021.4,988.9l13.4,3.75l0,6.6l-13.4,-3.75zM1012.1,995.5l13.4,3.75l0,6.6l-13.4,-3.75zM1039.4,994.0l13.4,3.75l0,6.6l-13.4,-3.75zM1030.1,1000.6l13.4,3.75l0,6.6l-13.4,-3.75zM1057.4,999.1l13.4,3.75l0,6.6l-13.4,-3.75zM1048.1,1005.7l13.4,3.75l0,6.6l-13.4,-3.75zM1075.4,1004.2l13.4,3.75l0,6.6l-13.4,-3.75zM1066.1,1010.8l13.4,3.75l0,6.6l-13.4,-3.75zM1093.4,1009.3l13.4,3.75l0,6.6l-13.4,-3.75zM1084.1,1015.9l13.4,3.75l0,6.6l-13.4,-3.75zM1111.4,1014.4l13.4,3.75l0,6.6l-13.4,-3.75zM1102.1,1021.0l13.4,3.75l0,6.6l-13.4,-3.75zM948.8,986.8l13.4,3.75l0,6.6l-13.4,-3.75zM966.8,991.9l13.4,3.75l0,6.6l-13.4,-3.75zM957.5,998.5l13.4,3.75l0,6.6l-13.4,-3.75zM984.8,997.0l13.4,3.75l0,6.6l-13.4,-3.75zM975.5,1003.6l13.4,3.75l0,6.6l-13.4,-3.75zM1002.8,1002.1l13.4,3.75l0,6.6l-13.4,-3.75zM993.5,1008.7l13.4,3.75l0,6.6l-13.4,-3.75zM1020.8,1007.2l13.4,3.75l0,6.6l-13.4,-3.75zM1011.5,1013.8l13.4,3.75l0,6.6l-13.4,-3.75zM1038.8,1012.3l13.4,3.75l0,6.6l-13.4,-3.75zM1029.5,1018.9l13.4,3.75l0,6.6l-13.4,-3.75zM1056.8,1017.4l13.4,3.75l0,6.6l-13.4,-3.75zM1047.5,1024.0l13.4,3.75l0,6.6l-13.4,-3.75zM1074.8,1022.5l13.4,3.75l0,6.6l-13.4,-3.75zM1065.5,1029.1l13.4,3.75l0,6.6l-13.4,-3.75zM1092.8,1027.6l13.4,3.75l0,6.6l-13.4,-3.75zM1083.5,1034.2l13.4,3.75l0,6.6l-13.4,-3.75zM1110.8,1032.7l13.4,3.75l0,6.6l-13.4,-3.75zM1101.5,1039.3l13.4,3.75l0,6.6l-13.4,-3.75zM948.2,1005.1l13.4,3.75l0,6.6l-13.4,-3.75zM966.2,1010.2l13.4,3.75l0,6.6l-13.4,-3.75zM956.9,1016.8l13.4,3.75l0,6.6l-13.4,-3.75zM984.2,1015.3l13.4,3.75l0,6.6l-13.4,-3.75zM974.9,1021.9l13.4,3.75l0,6.6l-13.4,-3.75zM1002.2,1020.4l13.4,3.75l0,6.6l-13.4,-3.75zM992.9,1027.0l13.4,3.75l0,6.6l-13.4,-3.75zM1020.2,1025.5l13.4,3.75l0,6.6l-13.4,-3.75zM1010.9,1032.1l13.4,3.75l0,6.6l-13.4,-3.75zM1038.2,1030.6l13.4,3.75l0,6.6l-13.4,-3.75zM1028.9,1037.2l13.4,3.75l0,6.6l-13.4,-3.75zM1056.2,1035.7l13.4,3.75l0,6.6l-13.4,-3.75zM1046.9,1042.3l13.4,3.75l0,6.6l-13.4,-3.75zM1074.2,1040.8l13.4,3.75l0,6.6l-13.4,-3.75zM1064.9,1047.4l13.4,3.75l0,6.6l-13.4,-3.75zM1092.2,1045.9l13.4,3.75l0,6.6l-13.4,-3.75zM1082.9,1052.5l13.4,3.75l0,6.6l-13.4,-3.75zM1110.2,1051.0l13.4,3.75l0,6.6l-13.4,-3.75zM1100.9,1057.6l13.4,3.75l0,6.6l-13.4,-3.75zM947.6,1023.4l13.4,3.75l0,6.6l-13.4,-3.75zM965.6,1028.5l13.4,3.75l0,6.6l-13.4,-3.75zM983.6,1033.6l13.4,3.75l0,6.6l-13.4,-3.75zM1001.6,1038.7l13.4,3.75l0,6.6l-13.4,-3.75zM1019.6,1043.8l13.4,3.75l0,6.6l-13.4,-3.75zM1037.6,1048.9l13.4,3.75l0,6.6l-13.4,-3.75z" fill="#fff" stroke="#000" stroke-width="1.7" stroke-linejoin="round"/>
<path d="M991.8,1063.6 L1126.8,1098.4 L981.6,1159.6 Z" stroke-width="2.30"/>
<path d="M991.8,1063.6 L1104,1093.6" fill="none" stroke-width="3.45"/>
<path d="M989.4,1145.8 L1120.8,1090" fill="none" stroke-width="2.07"/>
<ellipse cx="1030.8" cy="1106.2" rx="2.4" ry="1.4" fill="#000" stroke="none"/>
<path d="M1003,1141 l2,-3 l2,3 l-2,3z M1103,1099 l2,-3 l2,3 l-2,3z" fill="#000" stroke="none"/>
<path d="M992,912 L989.4,1145.8 L981.6,1159.6 L980.4,1159.6 L988,904 Z" stroke-width="2.07"/>
<path d="M718,842 Q718,830 729,830 L975,892 Q987,896 988,906 L980.4,1159.6 L711.5,1095 Z" stroke-width="2.30"/>
<path d="M745.6,829 L975,888" fill="none" stroke-width="2.07"/>
<path d="M711.5,1095 L980.4,1159.6" fill="none" stroke-width="3.22"/>
<path d="M765.7,1072.3 L766.3,1054.0 L772.3,871.0 L781.6,864.4 L853.6,884.8 L943.6,910.3 L961.6,915.4 L970.3,927.1 L969.7,945.4 L966.7,1036.9 L963.7,1128.4 L792.4,1089.1 L774.4,1084.0 Z" fill="#000" stroke="#000" stroke-width="4.60" stroke-linejoin="round"/>
<path d="M774.9,859.2l13.4,3.75l0,6.6l-13.4,-3.75zM765.6,865.8l13.4,3.75l0,6.6l-13.4,-3.75zM792.9,864.3l13.4,3.75l0,6.6l-13.4,-3.75zM783.6,870.9l13.4,3.75l0,6.6l-13.4,-3.75zM810.9,869.4l13.4,3.75l0,6.6l-13.4,-3.75zM801.6,876.0l13.4,3.75l0,6.6l-13.4,-3.75zM828.9,874.5l13.4,3.75l0,6.6l-13.4,-3.75zM819.6,881.1l13.4,3.75l0,6.6l-13.4,-3.75zM846.9,879.6l13.4,3.75l0,6.6l-13.4,-3.75zM837.6,886.2l13.4,3.75l0,6.6l-13.4,-3.75zM864.9,884.7l13.4,3.75l0,6.6l-13.4,-3.75zM855.6,891.3l13.4,3.75l0,6.6l-13.4,-3.75zM882.9,889.8l13.4,3.75l0,6.6l-13.4,-3.75zM873.6,896.4l13.4,3.75l0,6.6l-13.4,-3.75zM900.9,894.9l13.4,3.75l0,6.6l-13.4,-3.75zM891.6,901.5l13.4,3.75l0,6.6l-13.4,-3.75zM918.9,900.0l13.4,3.75l0,6.6l-13.4,-3.75zM909.6,906.6l13.4,3.75l0,6.6l-13.4,-3.75zM936.9,905.1l13.4,3.75l0,6.6l-13.4,-3.75zM927.6,911.7l13.4,3.75l0,6.6l-13.4,-3.75zM954.9,910.2l13.4,3.75l0,6.6l-13.4,-3.75zM945.6,916.8l13.4,3.75l0,6.6l-13.4,-3.75zM963.6,921.9l13.4,3.75l0,6.6l-13.4,-3.75zM774.3,877.5l13.4,3.75l0,6.6l-13.4,-3.75zM765.0,884.1l13.4,3.75l0,6.6l-13.4,-3.75zM792.3,882.6l13.4,3.75l0,6.6l-13.4,-3.75zM783.0,889.2l13.4,3.75l0,6.6l-13.4,-3.75zM810.3,887.7l13.4,3.75l0,6.6l-13.4,-3.75zM801.0,894.3l13.4,3.75l0,6.6l-13.4,-3.75zM828.3,892.8l13.4,3.75l0,6.6l-13.4,-3.75zM819.0,899.4l13.4,3.75l0,6.6l-13.4,-3.75zM846.3,897.9l13.4,3.75l0,6.6l-13.4,-3.75zM837.0,904.5l13.4,3.75l0,6.6l-13.4,-3.75zM864.3,903.0l13.4,3.75l0,6.6l-13.4,-3.75zM855.0,909.6l13.4,3.75l0,6.6l-13.4,-3.75zM882.3,908.1l13.4,3.75l0,6.6l-13.4,-3.75zM873.0,914.7l13.4,3.75l0,6.6l-13.4,-3.75zM900.3,913.2l13.4,3.75l0,6.6l-13.4,-3.75zM891.0,919.8l13.4,3.75l0,6.6l-13.4,-3.75zM918.3,918.3l13.4,3.75l0,6.6l-13.4,-3.75zM909.0,924.9l13.4,3.75l0,6.6l-13.4,-3.75zM936.3,923.4l13.4,3.75l0,6.6l-13.4,-3.75zM927.0,930.0l13.4,3.75l0,6.6l-13.4,-3.75zM954.3,928.5l13.4,3.75l0,6.6l-13.4,-3.75zM945.0,935.1l13.4,3.75l0,6.6l-13.4,-3.75zM963.0,940.2l13.4,3.75l0,6.6l-13.4,-3.75zM773.7,895.8l13.4,3.75l0,6.6l-13.4,-3.75zM764.4,902.4l13.4,3.75l0,6.6l-13.4,-3.75zM791.7,900.9l13.4,3.75l0,6.6l-13.4,-3.75zM782.4,907.5l13.4,3.75l0,6.6l-13.4,-3.75zM809.7,906.0l13.4,3.75l0,6.6l-13.4,-3.75zM800.4,912.6l13.4,3.75l0,6.6l-13.4,-3.75zM827.7,911.1l13.4,3.75l0,6.6l-13.4,-3.75zM818.4,917.7l13.4,3.75l0,6.6l-13.4,-3.75zM845.7,916.2l13.4,3.75l0,6.6l-13.4,-3.75zM836.4,922.8l13.4,3.75l0,6.6l-13.4,-3.75zM863.7,921.3l13.4,3.75l0,6.6l-13.4,-3.75zM854.4,927.9l13.4,3.75l0,6.6l-13.4,-3.75zM881.7,926.4l13.4,3.75l0,6.6l-13.4,-3.75zM872.4,933.0l13.4,3.75l0,6.6l-13.4,-3.75zM899.7,931.5l13.4,3.75l0,6.6l-13.4,-3.75zM890.4,938.1l13.4,3.75l0,6.6l-13.4,-3.75zM917.7,936.6l13.4,3.75l0,6.6l-13.4,-3.75zM908.4,943.2l13.4,3.75l0,6.6l-13.4,-3.75zM935.7,941.7l13.4,3.75l0,6.6l-13.4,-3.75zM926.4,948.3l13.4,3.75l0,6.6l-13.4,-3.75zM953.7,946.8l13.4,3.75l0,6.6l-13.4,-3.75zM944.4,953.4l13.4,3.75l0,6.6l-13.4,-3.75zM962.4,958.5l13.4,3.75l0,6.6l-13.4,-3.75zM773.1,914.1l13.4,3.75l0,6.6l-13.4,-3.75zM763.8,920.7l13.4,3.75l0,6.6l-13.4,-3.75zM791.1,919.2l13.4,3.75l0,6.6l-13.4,-3.75zM781.8,925.8l13.4,3.75l0,6.6l-13.4,-3.75zM809.1,924.3l13.4,3.75l0,6.6l-13.4,-3.75zM799.8,930.9l13.4,3.75l0,6.6l-13.4,-3.75zM827.1,929.4l13.4,3.75l0,6.6l-13.4,-3.75zM817.8,936.0l13.4,3.75l0,6.6l-13.4,-3.75zM845.1,934.5l13.4,3.75l0,6.6l-13.4,-3.75zM835.8,941.1l13.4,3.75l0,6.6l-13.4,-3.75zM863.1,939.6l13.4,3.75l0,6.6l-13.4,-3.75zM853.8,946.2l13.4,3.75l0,6.6l-13.4,-3.75zM881.1,944.7l13.4,3.75l0,6.6l-13.4,-3.75zM871.8,951.3l13.4,3.75l0,6.6l-13.4,-3.75zM899.1,949.8l13.4,3.75l0,6.6l-13.4,-3.75zM889.8,956.4l13.4,3.75l0,6.6l-13.4,-3.75zM917.1,954.9l13.4,3.75l0,6.6l-13.4,-3.75zM907.8,961.5l13.4,3.75l0,6.6l-13.4,-3.75zM935.1,960.0l13.4,3.75l0,6.6l-13.4,-3.75zM925.8,966.6l13.4,3.75l0,6.6l-13.4,-3.75zM953.1,965.1l13.4,3.75l0,6.6l-13.4,-3.75zM943.8,971.7l13.4,3.75l0,6.6l-13.4,-3.75zM961.8,976.8l13.4,3.75l0,6.6l-13.4,-3.75zM772.5,932.4l13.4,3.75l0,6.6l-13.4,-3.75zM763.2,939.0l13.4,3.75l0,6.6l-13.4,-3.75zM790.5,937.5l13.4,3.75l0,6.6l-13.4,-3.75zM781.2,944.1l13.4,3.75l0,6.6l-13.4,-3.75zM808.5,942.6l13.4,3.75l0,6.6l-13.4,-3.75zM799.2,949.2l13.4,3.75l0,6.6l-13.4,-3.75zM826.5,947.7l13.4,3.75l0,6.6l-13.4,-3.75zM817.2,954.3l13.4,3.75l0,6.6l-13.4,-3.75zM844.5,952.8l13.4,3.75l0,6.6l-13.4,-3.75zM835.2,959.4l13.4,3.75l0,6.6l-13.4,-3.75zM862.5,957.9l13.4,3.75l0,6.6l-13.4,-3.75zM853.2,964.5l13.4,3.75l0,6.6l-13.4,-3.75zM880.5,963.0l13.4,3.75l0,6.6l-13.4,-3.75zM871.2,969.6l13.4,3.75l0,6.6l-13.4,-3.75zM898.5,968.1l13.4,3.75l0,6.6l-13.4,-3.75zM889.2,974.7l13.4,3.75l0,6.6l-13.4,-3.75zM916.5,973.2l13.4,3.75l0,6.6l-13.4,-3.75zM907.2,979.8l13.4,3.75l0,6.6l-13.4,-3.75zM934.5,978.3l13.4,3.75l0,6.6l-13.4,-3.75zM925.2,984.9l13.4,3.75l0,6.6l-13.4,-3.75zM952.5,983.4l13.4,3.75l0,6.6l-13.4,-3.75zM943.2,990.0l13.4,3.75l0,6.6l-13.4,-3.75zM961.2,995.1l13.4,3.75l0,6.6l-13.4,-3.75zM771.9,950.7l13.4,3.75l0,6.6l-13.4,-3.75zM762.6,957.3l13.4,3.75l0,6.6l-13.4,-3.75zM789.9,955.8l13.4,3.75l0,6.6l-13.4,-3.75zM780.6,962.4l13.4,3.75l0,6.6l-13.4,-3.75zM807.9,960.9l13.4,3.75l0,6.6l-13.4,-3.75zM798.6,967.5l13.4,3.75l0,6.6l-13.4,-3.75zM825.9,966.0l13.4,3.75l0,6.6l-13.4,-3.75zM816.6,972.6l13.4,3.75l0,6.6l-13.4,-3.75zM843.9,971.1l13.4,3.75l0,6.6l-13.4,-3.75zM834.6,977.7l13.4,3.75l0,6.6l-13.4,-3.75zM861.9,976.2l13.4,3.75l0,6.6l-13.4,-3.75zM852.6,982.8l13.4,3.75l0,6.6l-13.4,-3.75zM879.9,981.3l13.4,3.75l0,6.6l-13.4,-3.75zM870.6,987.9l13.4,3.75l0,6.6l-13.4,-3.75zM897.9,986.4l13.4,3.75l0,6.6l-13.4,-3.75zM888.6,993.0l13.4,3.75l0,6.6l-13.4,-3.75zM915.9,991.5l13.4,3.75l0,6.6l-13.4,-3.75zM906.6,998.1l13.4,3.75l0,6.6l-13.4,-3.75zM933.9,996.6l13.4,3.75l0,6.6l-13.4,-3.75zM924.6,1003.2l13.4,3.75l0,6.6l-13.4,-3.75zM951.9,1001.7l13.4,3.75l0,6.6l-13.4,-3.75zM942.6,1008.3l13.4,3.75l0,6.6l-13.4,-3.75zM960.6,1013.4l13.4,3.75l0,6.6l-13.4,-3.75zM771.3,969.0l13.4,3.75l0,6.6l-13.4,-3.75zM762.0,975.6l13.4,3.75l0,6.6l-13.4,-3.75zM789.3,974.1l13.4,3.75l0,6.6l-13.4,-3.75zM780.0,980.7l13.4,3.75l0,6.6l-13.4,-3.75zM807.3,979.2l13.4,3.75l0,6.6l-13.4,-3.75zM798.0,985.8l13.4,3.75l0,6.6l-13.4,-3.75zM825.3,984.3l13.4,3.75l0,6.6l-13.4,-3.75zM816.0,990.9l13.4,3.75l0,6.6l-13.4,-3.75zM843.3,989.4l13.4,3.75l0,6.6l-13.4,-3.75zM834.0,996.0l13.4,3.75l0,6.6l-13.4,-3.75zM861.3,994.5l13.4,3.75l0,6.6l-13.4,-3.75zM852.0,1001.1l13.4,3.75l0,6.6l-13.4,-3.75zM879.3,999.6l13.4,3.75l0,6.6l-13.4,-3.75zM870.0,1006.2l13.4,3.75l0,6.6l-13.4,-3.75zM897.3,1004.7l13.4,3.75l0,6.6l-13.4,-3.75zM888.0,1011.3l13.4,3.75l0,6.6l-13.4,-3.75zM915.3,1009.8l13.4,3.75l0,6.6l-13.4,-3.75zM906.0,1016.4l13.4,3.75l0,6.6l-13.4,-3.75zM933.3,1014.9l13.4,3.75l0,6.6l-13.4,-3.75zM924.0,1021.5l13.4,3.75l0,6.6l-13.4,-3.75zM951.3,1020.0l13.4,3.75l0,6.6l-13.4,-3.75zM942.0,1026.6l13.4,3.75l0,6.6l-13.4,-3.75zM960.0,1031.7l13.4,3.75l0,6.6l-13.4,-3.75zM770.7,987.3l13.4,3.75l0,6.6l-13.4,-3.75zM761.4,993.9l13.4,3.75l0,6.6l-13.4,-3.75zM788.7,992.4l13.4,3.75l0,6.6l-13.4,-3.75zM779.4,999.0l13.4,3.75l0,6.6l-13.4,-3.75zM806.7,997.5l13.4,3.75l0,6.6l-13.4,-3.75zM797.4,1004.1l13.4,3.75l0,6.6l-13.4,-3.75zM824.7,1002.6l13.4,3.75l0,6.6l-13.4,-3.75zM815.4,1009.2l13.4,3.75l0,6.6l-13.4,-3.75zM842.7,1007.7l13.4,3.75l0,6.6l-13.4,-3.75zM833.4,1014.3l13.4,3.75l0,6.6l-13.4,-3.75zM860.7,1012.8l13.4,3.75l0,6.6l-13.4,-3.75zM851.4,1019.4l13.4,3.75l0,6.6l-13.4,-3.75zM878.7,1017.9l13.4,3.75l0,6.6l-13.4,-3.75zM869.4,1024.5l13.4,3.75l0,6.6l-13.4,-3.75zM896.7,1023.0l13.4,3.75l0,6.6l-13.4,-3.75zM887.4,1029.6l13.4,3.75l0,6.6l-13.4,-3.75zM914.7,1028.1l13.4,3.75l0,6.6l-13.4,-3.75zM905.4,1034.7l13.4,3.75l0,6.6l-13.4,-3.75zM932.7,1033.2l13.4,3.75l0,6.6l-13.4,-3.75zM923.4,1039.8l13.4,3.75l0,6.6l-13.4,-3.75zM950.7,1038.3l13.4,3.75l0,6.6l-13.4,-3.75zM941.4,1044.9l13.4,3.75l0,6.6l-13.4,-3.75zM959.4,1050.0l13.4,3.75l0,6.6l-13.4,-3.75zM770.1,1005.6l13.4,3.75l0,6.6l-13.4,-3.75zM760.8,1012.2l13.4,3.75l0,6.6l-13.4,-3.75zM788.1,1010.7l13.4,3.75l0,6.6l-13.4,-3.75zM778.8,1017.3l13.4,3.75l0,6.6l-13.4,-3.75zM806.1,1015.8l13.4,3.75l0,6.6l-13.4,-3.75zM796.8,1022.4l13.4,3.75l0,6.6l-13.4,-3.75zM824.1,1020.9l13.4,3.75l0,6.6l-13.4,-3.75zM814.8,1027.5l13.4,3.75l0,6.6l-13.4,-3.75zM842.1,1026.0l13.4,3.75l0,6.6l-13.4,-3.75zM832.8,1032.6l13.4,3.75l0,6.6l-13.4,-3.75zM860.1,1031.1l13.4,3.75l0,6.6l-13.4,-3.75zM850.8,1037.7l13.4,3.75l0,6.6l-13.4,-3.75zM878.1,1036.2l13.4,3.75l0,6.6l-13.4,-3.75zM868.8,1042.8l13.4,3.75l0,6.6l-13.4,-3.75zM896.1,1041.3l13.4,3.75l0,6.6l-13.4,-3.75zM886.8,1047.9l13.4,3.75l0,6.6l-13.4,-3.75zM914.1,1046.4l13.4,3.75l0,6.6l-13.4,-3.75zM904.8,1053.0l13.4,3.75l0,6.6l-13.4,-3.75zM932.1,1051.5l13.4,3.75l0,6.6l-13.4,-3.75zM922.8,1058.1l13.4,3.75l0,6.6l-13.4,-3.75zM950.1,1056.6l13.4,3.75l0,6.6l-13.4,-3.75zM940.8,1063.2l13.4,3.75l0,6.6l-13.4,-3.75zM958.8,1068.3l13.4,3.75l0,6.6l-13.4,-3.75zM769.5,1023.9l13.4,3.75l0,6.6l-13.4,-3.75zM760.2,1030.5l13.4,3.75l0,6.6l-13.4,-3.75zM787.5,1029.0l13.4,3.75l0,6.6l-13.4,-3.75zM778.2,1035.6l13.4,3.75l0,6.6l-13.4,-3.75zM805.5,1034.1l13.4,3.75l0,6.6l-13.4,-3.75zM796.2,1040.7l13.4,3.75l0,6.6l-13.4,-3.75zM823.5,1039.2l13.4,3.75l0,6.6l-13.4,-3.75zM814.2,1045.8l13.4,3.75l0,6.6l-13.4,-3.75zM841.5,1044.3l13.4,3.75l0,6.6l-13.4,-3.75zM832.2,1050.9l13.4,3.75l0,6.6l-13.4,-3.75zM859.5,1049.4l13.4,3.75l0,6.6l-13.4,-3.75zM850.2,1056.0l13.4,3.75l0,6.6l-13.4,-3.75zM877.5,1054.5l13.4,3.75l0,6.6l-13.4,-3.75zM868.2,1061.1l13.4,3.75l0,6.6l-13.4,-3.75zM895.5,1059.6l13.4,3.75l0,6.6l-13.4,-3.75zM886.2,1066.2l13.4,3.75l0,6.6l-13.4,-3.75zM913.5,1064.7l13.4,3.75l0,6.6l-13.4,-3.75zM904.2,1071.3l13.4,3.75l0,6.6l-13.4,-3.75zM931.5,1069.8l13.4,3.75l0,6.6l-13.4,-3.75zM922.2,1076.4l13.4,3.75l0,6.6l-13.4,-3.75zM949.5,1074.9l13.4,3.75l0,6.6l-13.4,-3.75zM940.2,1081.5l13.4,3.75l0,6.6l-13.4,-3.75zM958.2,1086.6l13.4,3.75l0,6.6l-13.4,-3.75zM768.9,1042.2l13.4,3.75l0,6.6l-13.4,-3.75zM759.6,1048.8l13.4,3.75l0,6.6l-13.4,-3.75zM786.9,1047.3l13.4,3.75l0,6.6l-13.4,-3.75zM777.6,1053.9l13.4,3.75l0,6.6l-13.4,-3.75zM804.9,1052.4l13.4,3.75l0,6.6l-13.4,-3.75zM795.6,1059.0l13.4,3.75l0,6.6l-13.4,-3.75zM822.9,1057.5l13.4,3.75l0,6.6l-13.4,-3.75zM813.6,1064.1l13.4,3.75l0,6.6l-13.4,-3.75zM840.9,1062.6l13.4,3.75l0,6.6l-13.4,-3.75zM831.6,1069.2l13.4,3.75l0,6.6l-13.4,-3.75zM858.9,1067.7l13.4,3.75l0,6.6l-13.4,-3.75zM849.6,1074.3l13.4,3.75l0,6.6l-13.4,-3.75zM876.9,1072.8l13.4,3.75l0,6.6l-13.4,-3.75zM867.6,1079.4l13.4,3.75l0,6.6l-13.4,-3.75zM894.9,1077.9l13.4,3.75l0,6.6l-13.4,-3.75zM885.6,1084.5l13.4,3.75l0,6.6l-13.4,-3.75zM912.9,1083.0l13.4,3.75l0,6.6l-13.4,-3.75zM903.6,1089.6l13.4,3.75l0,6.6l-13.4,-3.75zM930.9,1088.1l13.4,3.75l0,6.6l-13.4,-3.75zM921.6,1094.7l13.4,3.75l0,6.6l-13.4,-3.75zM948.9,1093.2l13.4,3.75l0,6.6l-13.4,-3.75zM939.6,1099.8l13.4,3.75l0,6.6l-13.4,-3.75zM957.6,1104.9l13.4,3.75l0,6.6l-13.4,-3.75zM768.3,1060.5l13.4,3.75l0,6.6l-13.4,-3.75zM759.0,1067.1l13.4,3.75l0,6.6l-13.4,-3.75zM786.3,1065.6l13.4,3.75l0,6.6l-13.4,-3.75zM777.0,1072.2l13.4,3.75l0,6.6l-13.4,-3.75zM804.3,1070.7l13.4,3.75l0,6.6l-13.4,-3.75zM795.0,1077.3l13.4,3.75l0,6.6l-13.4,-3.75zM822.3,1075.8l13.4,3.75l0,6.6l-13.4,-3.75zM813.0,1082.4l13.4,3.75l0,6.6l-13.4,-3.75zM840.3,1080.9l13.4,3.75l0,6.6l-13.4,-3.75zM831.0,1087.5l13.4,3.75l0,6.6l-13.4,-3.75zM858.3,1086.0l13.4,3.75l0,6.6l-13.4,-3.75zM849.0,1092.6l13.4,3.75l0,6.6l-13.4,-3.75zM876.3,1091.1l13.4,3.75l0,6.6l-13.4,-3.75zM867.0,1097.7l13.4,3.75l0,6.6l-13.4,-3.75zM894.3,1096.2l13.4,3.75l0,6.6l-13.4,-3.75zM885.0,1102.8l13.4,3.75l0,6.6l-13.4,-3.75zM912.3,1101.3l13.4,3.75l0,6.6l-13.4,-3.75zM903.0,1107.9l13.4,3.75l0,6.6l-13.4,-3.75zM930.3,1106.4l13.4,3.75l0,6.6l-13.4,-3.75zM921.0,1113.0l13.4,3.75l0,6.6l-13.4,-3.75zM948.3,1111.5l13.4,3.75l0,6.6l-13.4,-3.75zM939.0,1118.1l13.4,3.75l0,6.6l-13.4,-3.75zM957.0,1123.2l13.4,3.75l0,6.6l-13.4,-3.75zM767.7,1078.8l13.4,3.75l0,6.6l-13.4,-3.75zM785.7,1083.9l13.4,3.75l0,6.6l-13.4,-3.75z" fill="#fff" stroke="#000" stroke-width="1.7" stroke-linejoin="round"/>
</g>
<g id="feet" fill="#fff">
<path d="M713.2,1123.5 L714.2,1134.5 Q727.2,1140.5 740.2,1134.5 L741.2,1123.5 Z" stroke-width="2.30"/>
<ellipse cx="727.2" cy="1123.5" rx="14.2" ry="4.8" fill="#000" stroke-width="1.72"/>
<path d="M809.7,1140 L810.7,1151 Q823.7,1157 836.7,1151 L837.7,1140 Z" stroke-width="2.30"/>
<ellipse cx="823.7" cy="1140" rx="14.2" ry="4.8" fill="#000" stroke-width="1.72"/>
<path d="M952.8,1177 L953.8,1188 Q966.8,1194 979.8,1188 L980.8,1177 Z" stroke-width="2.30"/>
<ellipse cx="966.8" cy="1177" rx="14.2" ry="4.8" fill="#000" stroke-width="1.72"/>
<path d="M1092.4,1123.6 L1093.4,1134.6 Q1106.4,1140.6 1119.4,1134.6 L1120.4,1123.6 Z" stroke-width="2.30"/>
<ellipse cx="1106.4" cy="1123.6" rx="14.2" ry="4.8" fill="#000" stroke-width="1.72"/>
</g>
<g id="bracket14" fill="#fff">
<path d="M724.6,756.4 L759.3,761.6 L759.5,746 Q760,740.5 766,741 L783,744 Q788.8,745.5 788.8,751 L788.8,783 L802.6,782.4 L787,789.3 L736.8,782 L736.8,775.5 L724.6,772 Z" stroke-width="2.30"/>
<path d="M736.8,775.5 L788.8,783" fill="none" stroke-width="1.84"/>
<ellipse cx="775.8" cy="758.3" rx="2.8" ry="4" stroke-width="2.07"/>
<path d="M697,777 L731,766.5 Q737,765.5 737,771 Q737,775.5 733,776 L699,786 Q695,786 695,781.5 Q695,778 697,777 Z" stroke-width="2.07"/>
<ellipse cx="733" cy="771" rx="3.3" ry="5" stroke-width="1.84"/>
</g>
<g id="clamp17" fill="#000" stroke="none">
<path d="M1162,1074 Q1162,1070 1166,1069 L1172,1067 Q1176,1067 1178,1070 L1181,1074 L1189,1082 L1201,1093 L1199,1096 L1188,1088 L1185,1089 L1182,1093 Q1180,1095 1177,1093 L1174,1089 L1170,1092 Q1167,1093 1166,1090 L1166,1084 L1163,1081 Z"/>
<path d="M1168.3,1074 L1173,1072.3 L1174.2,1075 L1169.5,1077 Z M1175.8,1081.5 L1181,1080.3 L1182.7,1084 L1178,1086 Z" fill="#fff"/>
<path d="M1197,1093 Q1198,1088 1205,1087.5 Q1214,1086 1221,1090 Q1227,1095 1227,1104 Q1226,1113 1218,1116 Q1210,1119 1203,1116 Q1198,1114 1197,1110 Q1197,1107 1201,1106 Q1196,1104 1196,1100 Q1196,1097 1199,1096 Z"/>
<path d="M1205,1096 Q1209,1094 1212,1096 L1211,1098.5 Q1208,1097.5 1205.5,1098.5 Z M1214,1100 L1219,1099 L1219,1110 L1213,1113 L1214,1106 Z M1207.5,1103 L1209,1103 L1210,1114 L1208.5,1114.5 Z" fill="#fff"/>
</g>
<g id="cord18" fill="none">
<path d="M1201,1021.5 L1215,1021.5 M1201,1040 L1215,1040" stroke-width="3.68"/>
<path d="M1215,1016 L1229,1016 L1229,1049 L1215,1049 Z" fill="#fff" stroke-width="2.99"/>
<path d="M1221,1017 L1221,1048" stroke-width="1.72"/>
<path d="M1232,1014 L1237,1014 L1237,1050 L1232,1050 Z" fill="#fff" stroke-width="2.99"/>
<path d="M1237,1020 Q1245,1020 1249,1026 L1255,1026 L1255,1042 L1249,1042 Q1245,1045 1237,1045" fill="#fff" stroke-width="2.99"/>
<path d="M1255,1023 L1258,1023 L1258,1044 L1255,1044" fill="#fff" stroke-width="2.30"/>
<path d="M1258,1026 L1279,1027 L1279,1039 L1258,1040 Z" fill="#fff" stroke-width="2.99"/>
<path d="M1263,1027 L1263,1039 M1268,1027 L1268,1039 M1273,1027 L1273,1039" stroke-width="2.76" stroke-dasharray="2 2"/>
<path d="M1357.7,1033.4 C1354.9,1033.7 1346.9,1034.7 1341.0,1035.7 C1335.1,1036.7 1327.5,1038.1 1322.4,1039.4 C1317.2,1040.7 1313.1,1042.1 1310.1,1043.4 C1307.2,1044.7 1305.2,1046.3 1304.6,1047.4 C1304.0,1048.5 1304.6,1049.6 1306.4,1049.9 C1308.2,1050.3 1311.7,1050.3 1315.3,1049.5 C1319.0,1048.8 1321.3,1048.0 1328.2,1045.5 C1335.0,1043.1 1351.5,1036.7 1356.2,1035.0" stroke-width="1.72"/>
<path d="M1357.7,1033.0 C1354.7,1033.1 1346.2,1033.1 1340.0,1033.6 C1333.9,1034.1 1326.0,1034.9 1320.7,1036.1 C1315.4,1037.3 1311.2,1038.9 1308.3,1040.7 C1305.4,1042.4 1303.7,1044.8 1303.2,1046.6 C1302.8,1048.4 1303.8,1050.6 1305.8,1051.6 C1307.8,1052.7 1311.6,1053.4 1315.3,1052.8 C1319.1,1052.3 1321.5,1051.3 1328.3,1048.5 C1335.2,1045.6 1351.7,1037.7 1356.4,1035.6" stroke-width="1.72"/>
<path d="M1357.6,1032.6 C1354.5,1032.4 1345.5,1031.4 1339.1,1031.4 C1332.7,1031.5 1324.5,1031.8 1319.1,1032.9 C1313.6,1033.9 1309.4,1035.8 1306.5,1037.9 C1303.7,1040.1 1302.1,1043.3 1301.9,1045.8 C1301.6,1048.4 1302.9,1051.6 1305.1,1053.3 C1307.3,1055.0 1311.4,1056.5 1315.3,1056.1 C1319.2,1055.8 1321.6,1054.7 1328.5,1051.4 C1335.3,1048.1 1351.8,1038.7 1356.5,1036.2" stroke-width="1.72"/>
<path d="M1357.5,1032.3 C1354.3,1031.8 1344.8,1029.7 1338.1,1029.3 C1331.5,1028.8 1323.0,1028.6 1317.4,1029.6 C1311.8,1030.6 1307.6,1032.6 1304.7,1035.2 C1301.9,1037.8 1300.5,1041.7 1300.5,1045.0 C1300.4,1048.3 1302.0,1052.6 1304.4,1055.0 C1306.9,1057.4 1311.2,1059.6 1315.3,1059.5 C1319.3,1059.4 1321.7,1058.1 1328.6,1054.3 C1335.5,1050.6 1352.0,1039.7 1356.7,1036.8" stroke-width="1.72"/>
<path d="M1357.4,1031.9 C1354.0,1031.1 1344.1,1028.1 1337.2,1027.1 C1330.2,1026.2 1321.4,1025.4 1315.7,1026.3 C1310.0,1027.2 1305.7,1029.5 1302.9,1032.5 C1300.2,1035.4 1299.0,1040.2 1299.1,1044.3 C1299.2,1048.3 1301.1,1053.6 1303.8,1056.7 C1306.5,1059.8 1311.1,1062.7 1315.3,1062.8 C1319.4,1062.9 1321.9,1061.5 1328.8,1057.3 C1335.7,1053.0 1352.1,1040.7 1356.8,1037.4" stroke-width="1.72"/>
<path d="M1357.3,1031.6 C1353.8,1030.5 1343.5,1026.4 1336.3,1025.0 C1329.0,1023.6 1319.9,1022.2 1314.1,1023.0 C1308.2,1023.8 1303.9,1026.3 1301.2,1029.7 C1298.4,1033.1 1297.4,1038.7 1297.7,1043.5 C1298.0,1048.3 1300.2,1054.6 1303.1,1058.4 C1306.0,1062.2 1310.9,1065.8 1315.2,1066.1 C1319.5,1066.4 1322.0,1064.9 1329.0,1060.2 C1335.9,1055.5 1352.3,1041.7 1357.0,1038.1" stroke-width="1.72"/>
<path d="M1357.2,1031.2 C1353.6,1029.8 1342.8,1024.8 1335.3,1022.9 C1327.8,1020.9 1318.4,1019.1 1312.4,1019.8 C1306.4,1020.4 1302.0,1023.1 1299.4,1027.0 C1296.7,1030.8 1295.8,1037.2 1296.3,1042.7 C1296.9,1048.2 1299.3,1055.6 1302.5,1060.1 C1305.6,1064.5 1310.8,1068.9 1315.2,1069.4 C1319.7,1069.9 1322.1,1068.2 1329.1,1063.1 C1336.1,1058.0 1352.5,1042.7 1357.1,1038.7" stroke-width="1.72"/>
<path d="M1357.2,1031.0 C1353.5,1029.5 1342.4,1023.9 1334.8,1021.7 C1327.2,1019.5 1317.6,1017.4 1311.5,1018.0 C1305.4,1018.6 1301.1,1021.5 1298.4,1025.5 C1295.8,1029.5 1295.0,1036.4 1295.6,1042.3 C1296.2,1048.2 1298.8,1056.2 1302.1,1061.0 C1305.4,1065.8 1310.7,1070.6 1315.2,1071.2 C1319.7,1071.8 1322.2,1070.1 1329.2,1064.7 C1336.2,1059.3 1352.5,1043.3 1357.2,1039.0" stroke-width="2.99"/>
<path d="M1357.5,1033.4 C1361.0,1032.5 1372.7,1029.7 1378.9,1028.4 C1385.1,1027.1 1390.2,1026.0 1394.9,1025.5 C1399.5,1024.9 1403.9,1024.7 1406.8,1025.0 C1409.8,1025.4 1412.1,1026.7 1412.7,1027.6 C1413.4,1028.4 1413.1,1029.3 1410.8,1030.2 C1408.6,1031.1 1404.5,1032.3 1399.3,1032.9 C1394.0,1033.5 1386.3,1033.5 1379.3,1033.8 C1372.2,1034.1 1360.6,1034.4 1356.9,1034.5" stroke-width="1.72"/>
<path d="M1357.4,1032.8 C1361.0,1031.6 1372.8,1027.4 1379.1,1025.4 C1385.4,1023.5 1390.5,1022.0 1395.3,1021.3 C1400.0,1020.7 1404.5,1020.6 1407.5,1021.5 C1410.6,1022.4 1413.1,1025.1 1413.8,1026.7 C1414.6,1028.4 1414.3,1030.0 1412.1,1031.5 C1409.9,1032.9 1405.8,1034.8 1400.4,1035.5 C1395.1,1036.1 1387.1,1035.6 1379.9,1035.5 C1372.7,1035.4 1360.8,1035.1 1357.0,1035.0" stroke-width="1.72"/>
<path d="M1357.4,1032.3 C1361.0,1030.7 1372.9,1025.0 1379.2,1022.5 C1385.6,1019.9 1390.8,1017.9 1395.6,1017.2 C1400.5,1016.4 1405.0,1016.5 1408.2,1018.0 C1411.4,1019.4 1414.1,1023.4 1414.9,1025.9 C1415.8,1028.3 1415.6,1030.7 1413.3,1032.8 C1411.1,1034.8 1407.0,1037.3 1401.6,1038.1 C1396.1,1038.8 1388.0,1037.7 1380.5,1037.2 C1373.1,1036.8 1360.9,1035.7 1357.0,1035.4" stroke-width="1.72"/>
<path d="M1357.3,1031.8 C1361.0,1029.8 1373.0,1022.6 1379.4,1019.5 C1385.9,1016.4 1391.1,1013.9 1396.0,1013.1 C1401.0,1012.2 1405.6,1012.5 1408.9,1014.5 C1412.3,1016.5 1415.0,1021.8 1416.0,1025.0 C1416.9,1028.3 1416.8,1031.4 1414.6,1034.0 C1412.4,1036.6 1408.3,1039.8 1402.7,1040.6 C1397.1,1041.5 1388.8,1039.7 1381.2,1038.9 C1373.6,1038.2 1361.1,1036.4 1357.0,1035.9" stroke-width="1.72"/>
<path d="M1357.3,1031.3 C1361.0,1028.8 1373.1,1020.3 1379.6,1016.5 C1386.1,1012.8 1391.4,1009.8 1396.4,1008.9 C1401.4,1008.0 1406.2,1008.4 1409.6,1010.9 C1413.1,1013.5 1416.0,1020.1 1417.1,1024.2 C1418.1,1028.2 1418.0,1032.1 1415.8,1035.3 C1413.6,1038.5 1409.5,1042.3 1403.8,1043.2 C1398.1,1044.1 1389.6,1041.8 1381.8,1040.7 C1374.0,1039.5 1361.2,1037.1 1357.1,1036.3" stroke-width="1.72"/>
<path d="M1357.3,1030.8 C1361.0,1027.9 1373.2,1017.9 1379.7,1013.6 C1386.3,1009.2 1391.7,1005.8 1396.8,1004.8 C1401.9,1003.7 1406.8,1004.3 1410.3,1007.4 C1413.9,1010.5 1417.0,1018.5 1418.1,1023.3 C1419.3,1028.2 1419.3,1032.8 1417.1,1036.6 C1414.9,1040.3 1410.7,1044.9 1405.0,1045.8 C1399.2,1046.8 1390.4,1043.9 1382.4,1042.4 C1374.5,1040.9 1361.4,1037.7 1357.1,1036.8" stroke-width="1.72"/>
<path d="M1357.2,1030.3 C1361.0,1027.0 1373.2,1015.5 1379.9,1010.6 C1386.6,1005.7 1392.0,1001.7 1397.2,1000.6 C1402.4,999.5 1407.4,1000.3 1411.0,1003.9 C1414.7,1007.5 1418.0,1016.8 1419.2,1022.5 C1420.4,1028.1 1420.5,1033.5 1418.3,1037.8 C1416.1,1042.1 1412.0,1047.4 1406.1,1048.4 C1400.2,1049.5 1391.2,1045.9 1383.1,1044.1 C1374.9,1042.2 1361.5,1038.4 1357.2,1037.3" stroke-width="1.72"/>
<path d="M1357.2,1030.0 C1361.0,1026.5 1373.3,1014.3 1380.0,1009.0 C1386.7,1003.7 1392.2,999.6 1397.4,998.4 C1402.6,997.2 1407.7,998.1 1411.4,1002.0 C1415.1,1005.9 1418.5,1015.9 1419.8,1022.0 C1421.1,1028.1 1421.2,1033.9 1419.0,1038.5 C1416.8,1043.1 1412.6,1048.7 1406.7,1049.8 C1400.8,1050.9 1391.7,1047.0 1383.4,1045.0 C1375.2,1043.0 1361.6,1038.8 1357.2,1037.5" stroke-width="2.99"/>
<path d="M1279,1033 L1356,1033" stroke="#000" stroke-width="5.75"/><path d="M1279,1033 L1356,1033" stroke="#fff" stroke-width="2.30"/>
<ellipse cx="1357" cy="1034" rx="3.2" ry="7" fill="#000" stroke="none"/>
<path d="M1357,1030 L1408,983 M1361,1033 L1413,986" stroke-width="1.95"/>
<path d="M1408,983 L1412,966 L1409,959" stroke-width="2.76"/>
<path d="M1404,958 L1414,956 L1412,962 L1406,962 Z" fill="#000" stroke-width="1.72"/>
<path d="M1410,978 L1433,955 M1411,981 L1436,958" stroke-width="1.49" stroke-dasharray="2 1"/>
<path d="M1432,953 L1446,937 L1450,941 L1437,957 Z" fill="#000" stroke-width="1.72"/>
<path d="M1413,984 L1443,971 M1414,987 L1445,974" stroke-width="1.49" stroke-dasharray="2 1"/>
<path d="M1441,968 L1456,960 L1459,966 L1445,974 Z" fill="#000" stroke-width="1.72"/>
</g>
</g>
<g id="leaders" fill="none" stroke="#000" stroke-width="1.9" stroke-linejoin="round">
<polyline points="70.9,426.4 293.3,603.0"/>
<polyline points="156.1,388.8 381.0,572.7"/>
<polyline points="226.0,358.1 451.3,554.7"/>
<polyline points="296.5,328.5 491.0,517.0 595.0,681.0"/>
<polyline points="372.3,295.8 572.0,532.4"/>
<polyline points="449.6,262.0 746.4,597.4"/>
<polyline points="532.9,225.9 770.4,511.6"/>
<polyline points="633.6,180.9 799.3,344.7"/>
<polyline points="802.7,106.1 935.3,240.3"/>
<polyline points="1341.0,466.4 940.4,592.8"/>
<polyline points="1351.1,573.4 975.2,688.8"/>
<polyline points="1351.1,670.8 1135.3,737.3 913.4,737.3"/>
<polyline points="337.7,1280.0 264.0,952.0"/>
<polyline points="577.6,1277.0 523.3,1033.3 759.0,784.0"/>
<polyline points="767.3,1279.0 733.0,1139.5"/>
<polyline points="937.6,1280.6 883.0,1139.0"/>
<polyline points="1260.0,1280.0 1210.3,1117.4"/>
<polyline points="1386.0,1280.0 1330.4,1066.4"/>
</g>
<g id="circles">
<circle cx="49.3" cy="409.2" r="27.3" fill="#fff" stroke="#000" stroke-width="2.2"/>
<path d="M42.2,403.5 Q46.8,400.0 50.8,394.0 L50.8,425.8" fill="none" stroke="#000" stroke-width="3.1" stroke-linecap="butt" stroke-linejoin="miter"/>
<circle cx="134.7" cy="371.3" r="27.3" fill="#fff" stroke="#000" stroke-width="2.2"/>
<g transform="translate(134.7,371.3) scale(0.8,1)"><text x="0" y="16.6" text-anchor="middle" font-size="44.5" stroke="#000" stroke-width="0.5">2</text></g>
<circle cx="205.2" cy="340" r="27.3" fill="#fff" stroke="#000" stroke-width="2.2"/>
<g transform="translate(205.2,340) scale(0.8,1)"><text x="0" y="16.6" text-anchor="middle" font-size="44.5" stroke="#000" stroke-width="0.5">3</text></g>
<circle cx="276.7" cy="309.3" r="27.3" fill="#fff" stroke="#000" stroke-width="2.2"/>
<g transform="translate(276.7,309.3) scale(0.8,1)"><text x="0" y="16.6" text-anchor="middle" font-size="44.5" stroke="#000" stroke-width="0.5">4</text></g>
<circle cx="354.5" cy="274.7" r="27.3" fill="#fff" stroke="#000" stroke-width="2.2"/>
<g transform="translate(354.5,274.7) scale(0.8,1)"><text x="0" y="16.6" text-anchor="middle" font-size="44.5" stroke="#000" stroke-width="0.5">5</text></g>
<circle cx="431.3" cy="241.3" r="27.3" fill="#fff" stroke="#000" stroke-width="2.2"/>
<g transform="translate(431.3,241.3) scale(0.8,1)"><text x="0" y="16.6" text-anchor="middle" font-size="44.5" stroke="#000" stroke-width="0.5">6</text></g>
<circle cx="515.3" cy="204.7" r="27.3" fill="#fff" stroke="#000" stroke-width="2.2"/>
<g transform="translate(515.3,204.7) scale(0.8,1)"><text x="0" y="16.6" text-anchor="middle" font-size="44.5" stroke="#000" stroke-width="0.5">7</text></g>
<circle cx="614" cy="161.5" r="27.3" fill="#fff" stroke="#000" stroke-width="2.2"/>
<g transform="translate(614.0,161.5) scale(0.8,1)"><text x="0" y="16.6" text-anchor="middle" font-size="44.5" stroke="#000" stroke-width="0.5">8</text></g>
<circle cx="783.3" cy="86.5" r="27.3" fill="#fff" stroke="#000" stroke-width="2.2"/>
<g transform="translate(783.3,86.5) scale(0.8,1)"><text x="0" y="16.6" text-anchor="middle" font-size="44.5" stroke="#000" stroke-width="0.5">9</text></g>
<circle cx="1367.3" cy="458.1" r="27.3" fill="#fff" stroke="#000" stroke-width="2.2"/>
<path d="M1349.9,452.4 Q1354.5,448.9 1358.5,442.9 L1358.5,474.7" fill="none" stroke="#000" stroke-width="3.1" stroke-linecap="butt" stroke-linejoin="miter"/>
<g transform="translate(1376.7,458.1) scale(0.8,1)"><text x="0" y="16.6" text-anchor="middle" font-size="44.5" stroke="#000" stroke-width="0.5">0</text></g>
<circle cx="1377.5" cy="565.3" r="27.3" fill="#fff" stroke="#000" stroke-width="2.2"/>
<path d="M1360.1,559.6 Q1364.7,556.1 1368.7,550.1 L1368.7,581.9" fill="none" stroke="#000" stroke-width="3.1" stroke-linecap="butt" stroke-linejoin="miter"/>
<path d="M1378.9,559.6 Q1383.5,556.1 1387.5,550.1 L1387.5,581.9" fill="none" stroke="#000" stroke-width="3.1" stroke-linecap="butt" stroke-linejoin="miter"/>
<circle cx="1377.5" cy="662.7" r="27.3" fill="#fff" stroke="#000" stroke-width="2.2"/>
<path d="M1360.1,657.0 Q1364.7,653.5 1368.7,647.5 L1368.7,679.3" fill="none" stroke="#000" stroke-width="3.1" stroke-linecap="butt" stroke-linejoin="miter"/>
<g transform="translate(1386.9,662.7) scale(0.8,1)"><text x="0" y="16.6" text-anchor="middle" font-size="44.5" stroke="#000" stroke-width="0.5">2</text></g>
<circle cx="339" cy="1312" r="27.3" fill="#fff" stroke="#000" stroke-width="2.2"/>
<path d="M321.6,1306.3 Q326.2,1302.8 330.2,1296.8 L330.2,1328.6" fill="none" stroke="#000" stroke-width="3.1" stroke-linecap="butt" stroke-linejoin="miter"/>
<g transform="translate(348.4,1312) scale(0.8,1)"><text x="0" y="16.6" text-anchor="middle" font-size="44.5" stroke="#000" stroke-width="0.5">3</text></g>
<circle cx="582.4" cy="1311.8" r="27.3" fill="#fff" stroke="#000" stroke-width="2.2"/>
<path d="M565.0,1306.1 Q569.6,1302.6 573.6,1296.6 L573.6,1328.4" fill="none" stroke="#000" stroke-width="3.1" stroke-linecap="butt" stroke-linejoin="miter"/>
<g transform="translate(591.8,1311.8) scale(0.8,1)"><text x="0" y="16.6" text-anchor="middle" font-size="44.5" stroke="#000" stroke-width="0.5">4</text></g>
<circle cx="769.6" cy="1311.8" r="27.3" fill="#fff" stroke="#000" stroke-width="2.2"/>
<path d="M752.2,1306.1 Q756.8,1302.6 760.8,1296.6 L760.8,1328.4" fill="none" stroke="#000" stroke-width="3.1" stroke-linecap="butt" stroke-linejoin="miter"/>
<g transform="translate(779.0,1311.8) scale(0.8,1)"><text x="0" y="16.6" text-anchor="middle" font-size="44.5" stroke="#000" stroke-width="0.5">5</text></g>
<circle cx="940" cy="1311.8" r="27.3" fill="#fff" stroke="#000" stroke-width="2.2"/>
<path d="M922.6,1306.1 Q927.2,1302.6 931.2,1296.6 L931.2,1328.4" fill="none" stroke="#000" stroke-width="3.1" stroke-linecap="butt" stroke-linejoin="miter"/>
<g transform="translate(949.4,1311.8) scale(0.8,1)"><text x="0" y="16.6" text-anchor="middle" font-size="44.5" stroke="#000" stroke-width="0.5">6</text></g>
<circle cx="1261.6" cy="1312" r="27.3" fill="#fff" stroke="#000" stroke-width="2.2"/>
<path d="M1244.2,1306.3 Q1248.8,1302.8 1252.8,1296.8 L1252.8,1328.6" fill="none" stroke="#000" stroke-width="3.1" stroke-linecap="butt" stroke-linejoin="miter"/>
<g transform="translate(1271.0,1312) scale(0.8,1)"><text x="0" y="16.6" text-anchor="middle" font-size="44.5" stroke="#000" stroke-width="0.5">7</text></g>
<circle cx="1387.2" cy="1312" r="27.3" fill="#fff" stroke="#000" stroke-width="2.2"/>
<path d="M1369.8,1306.3 Q1374.4,1302.8 1378.4,1296.8 L1378.4,1328.6" fill="none" stroke="#000" stroke-width="3.1" stroke-linecap="butt" stroke-linejoin="miter"/>
<g transform="translate(1396.6,1312) scale(0.8,1)"><text x="0" y="16.6" text-anchor="middle" font-size="44.5" stroke="#000" stroke-width="0.5">8</text></g>
</g>
<rect x="0" y="1370.8" width="1500" height="1.5" fill="#000"/>
<g id="logo">
<rect x="31.2" y="1406.2" width="215" height="59.6" fill="#807f84"/>
<g fill="#fff" stroke="none">
<path d="M66.7,1417.3 L85.3,1436 L66.7,1454.7 L57.3,1445.3 L57.3,1426.7 Z"/>
<path d="M57.3,1428.3 L70.5,1428.3 L72.5,1430.5 L72.5,1441.5 L70.5,1443.7 L57.3,1443.7 Z" fill="#807f84"/>
<rect x="47" y="1430.6" width="22.5" height="4.3" rx="2.1"/>
<rect x="47" y="1437.2" width="22.5" height="4.3" rx="2.1"/>
<path d="M97.5,1422.7 L119,1422.7 Q124,1422.7 124,1427.7 L124,1432 Q124,1435 122,1435.7 Q124,1436.4 124,1439.5 L124,1443.7 Q124,1448.7 119,1448.7 L98,1448.7 L94,1442 L116.5,1442 L116.5,1438.7 L104,1438.7 L104,1432.7 L116.5,1432.7 L116.5,1428.7 L95.5,1428.7 Z"/>
<path d="M127.3,1422.7 L136,1422.7 L136,1441.9 L149.3,1441.9 L149.3,1422.7 L158,1422.7 L158,1448.7 L133,1448.7 Q127.3,1448.7 127.3,1443 Z"/>
<rect x="136" y="1438.7" width="8" height="3.2" fill="#807f84"/>
<path d="M163.3,1422.7 L194.7,1422.7 L194.7,1428.7 L172,1428.7 L172,1432 L189,1432 Q194.7,1432 194.7,1437.5 L194.7,1443 Q194.7,1448.7 189,1448.7 L163.3,1448.7 Z"/>
<rect x="172" y="1438.7" width="14.7" height="3.3" fill="#807f84"/>
<path d="M199.3,1422.7 L224.5,1422.7 Q230.7,1422.7 230.7,1429 L230.7,1432.5 Q230.7,1438.7 224.5,1438.7 L207.3,1438.7 L207.3,1448.7 L199.3,1448.7 Z"/>
<rect x="207.3" y="1429.8" width="15.5" height="2.4" fill="#807f84"/>
</g>

</g>
<text x="289.3" y="1451.3" font-size="37.2" fill="#111" stroke="#111" stroke-width="0.35" textLength="165.4" lengthAdjust="spacingAndGlyphs">ЗТП-2000.</text>
<text x="464" y="1451.5" font-size="35.5" fill="#1a1a1a" stroke="#fff" stroke-width="0.9" textLength="604.8" lengthAdjust="spacingAndGlyphs">Схема 1-1 (Схема-состав. Пушка тепловая)</text>
</svg>
</body></html>
